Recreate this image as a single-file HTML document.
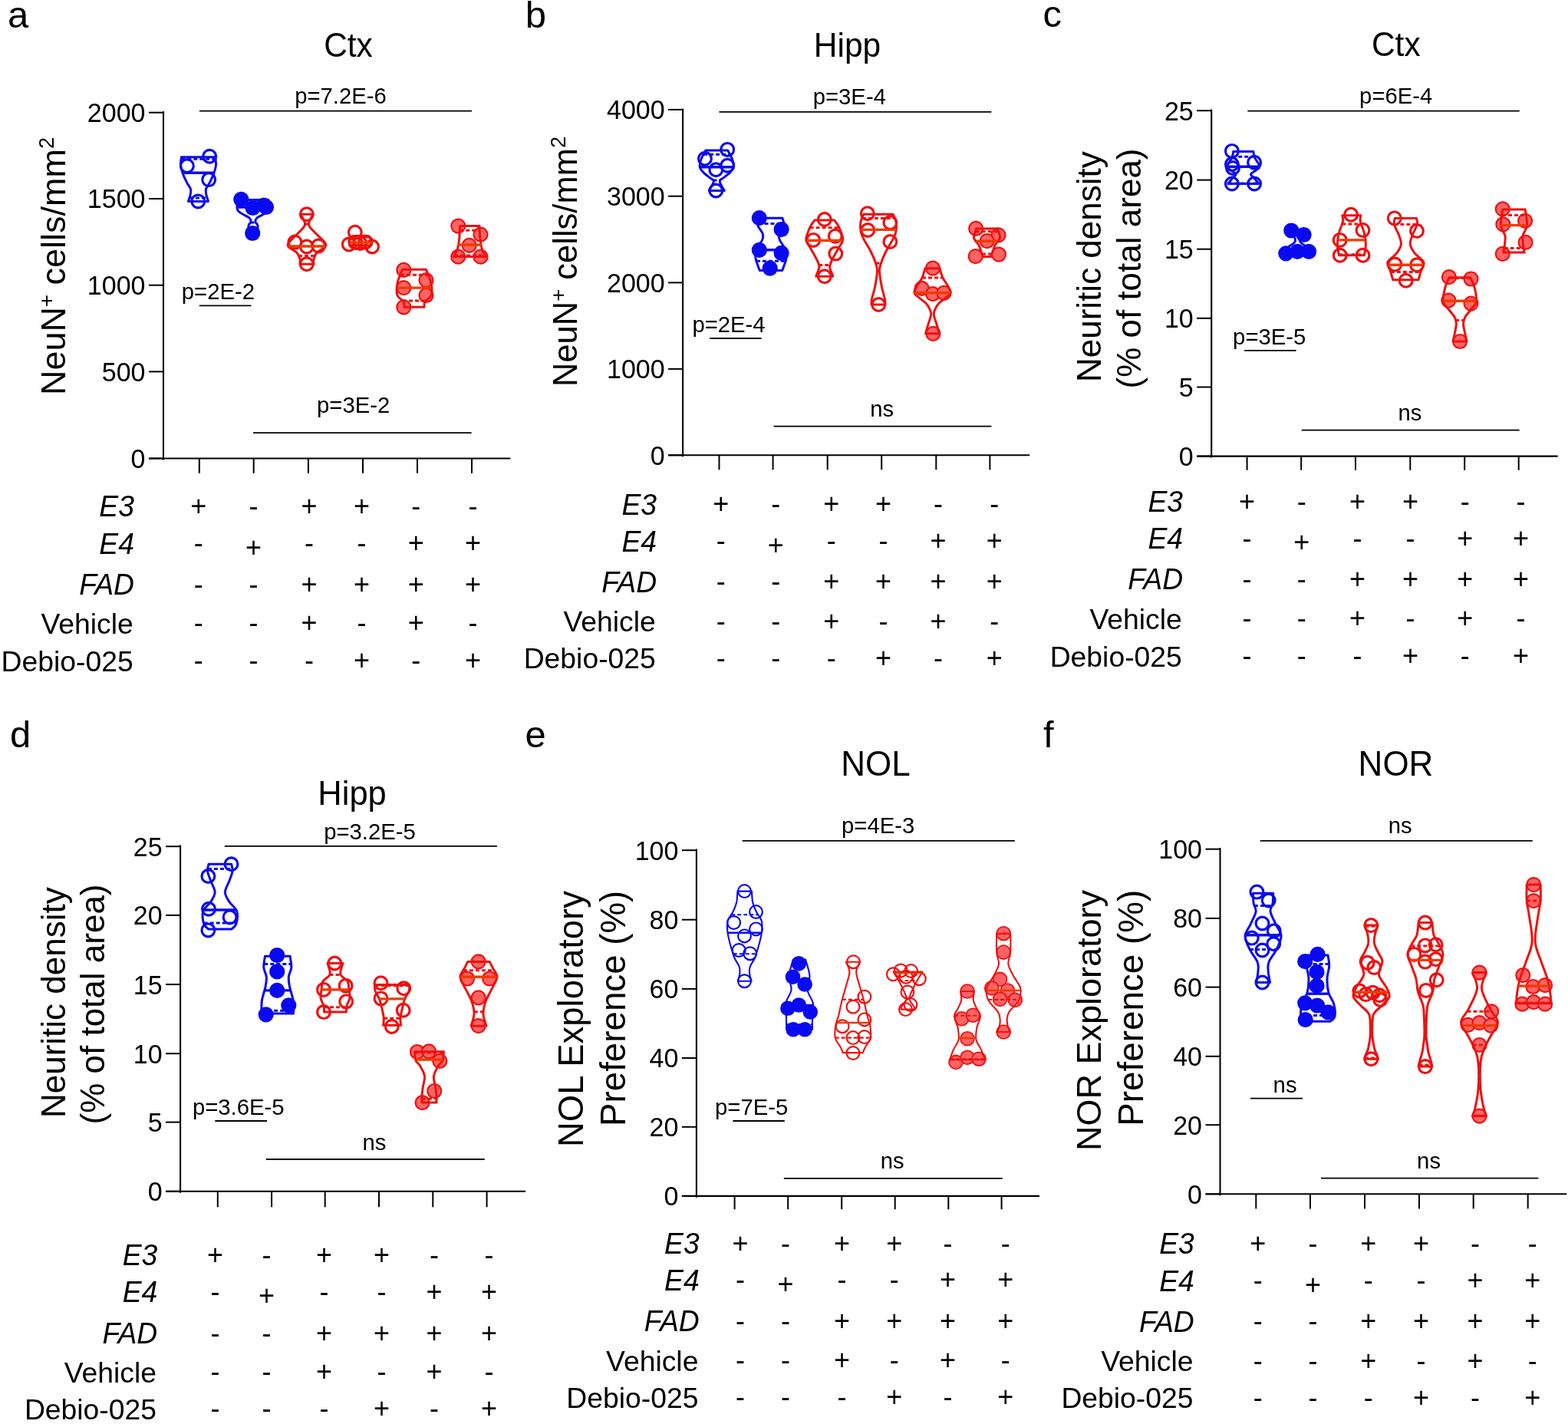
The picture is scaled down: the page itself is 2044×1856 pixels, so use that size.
<!DOCTYPE html>
<html><head><meta charset="utf-8"><style>
html,body{margin:0;padding:0;background:#fff;overflow:hidden;}
svg{display:block;}
text{font-family:'Liberation Sans', Arial, Helvetica, sans-serif;fill:#000;}
</style></head><body>
<svg xmlns="http://www.w3.org/2000/svg" width="2044" height="1856" viewBox="0 0 2044 1856">
<rect width="2044" height="1856" fill="#fff"/>
<text x="10.0" y="35.6" font-size="49" text-anchor="start" transform="matrix(1 0 0 0.99 0 0.36)">a</text>
<text x="454.0" y="73.6" font-size="42.5" text-anchor="middle" transform="matrix(1 0 0 1.025 0 -1.84)">Ctx</text>
<line x1="213.0" y1="145.0" x2="213.0" y2="599.5" stroke="#000" stroke-width="2.1"/>
<line x1="194.0" y1="597.5" x2="213.0" y2="597.5" stroke="#000" stroke-width="2.0"/>
<text x="189.5" y="610.0" font-size="34" text-anchor="end" transform="matrix(1 0 0 1.045 0 -27.45)">0</text>
<line x1="194.0" y1="484.4" x2="213.0" y2="484.4" stroke="#000" stroke-width="2.0"/>
<text x="189.5" y="496.9" font-size="34" text-anchor="end" transform="matrix(1 0 0 1.045 0 -22.36)">500</text>
<line x1="194.0" y1="371.7" x2="213.0" y2="371.7" stroke="#000" stroke-width="2.0"/>
<text x="189.5" y="384.2" font-size="34" text-anchor="end" transform="matrix(1 0 0 1.045 0 -17.29)">1000</text>
<line x1="194.0" y1="259.0" x2="213.0" y2="259.0" stroke="#000" stroke-width="2.0"/>
<text x="189.5" y="271.5" font-size="34" text-anchor="end" transform="matrix(1 0 0 1.045 0 -12.22)">1500</text>
<line x1="194.0" y1="146.7" x2="213.0" y2="146.7" stroke="#000" stroke-width="2.0"/>
<text x="189.5" y="159.2" font-size="34" text-anchor="end" transform="matrix(1 0 0 1.045 0 -7.16)">2000</text>
<line x1="194.0" y1="597.5" x2="665.4" y2="597.5" stroke="#000" stroke-width="2.1"/>
<line x1="259.8" y1="597.5" x2="259.8" y2="616.8" stroke="#000" stroke-width="2.0"/>
<line x1="330.7" y1="597.5" x2="330.7" y2="616.8" stroke="#000" stroke-width="2.0"/>
<line x1="401.9" y1="597.5" x2="401.9" y2="616.8" stroke="#000" stroke-width="2.0"/>
<line x1="473.0" y1="597.5" x2="473.0" y2="616.8" stroke="#000" stroke-width="2.0"/>
<line x1="544.0" y1="597.5" x2="544.0" y2="616.8" stroke="#000" stroke-width="2.0"/>
<line x1="615.0" y1="597.5" x2="615.0" y2="616.8" stroke="#000" stroke-width="2.0"/>
<text x="85.0" y="346.9" font-size="45" text-anchor="middle" transform="rotate(-90 85.0 346.9) translate(85.0 346.9) scale(1 1.0) translate(-85.0 -346.9)">NeuN<tspan dy="-14.5" font-size="27.5">+</tspan><tspan dy="14.5"> cells/mm</tspan><tspan dy="-14.5" font-size="27.5">2</tspan></text>
<text x="384.2" y="134.9" font-size="29.3" text-anchor="start" transform="matrix(1 0 0 1.02 0 -2.70)">p=7.2E-6</text>
<line x1="260.0" y1="144.7" x2="615.0" y2="144.7" stroke="#000" stroke-width="1.8"/>
<text x="236.8" y="389.8" font-size="29.3" text-anchor="start" transform="matrix(1 0 0 1.02 0 -7.80)">p=2E-2</text>
<line x1="259.8" y1="398.4" x2="327.4" y2="398.4" stroke="#000" stroke-width="1.8"/>
<text x="413.0" y="537.7" font-size="29.3" text-anchor="start" transform="matrix(1 0 0 1.02 0 -10.75)">p=3E-2</text>
<line x1="330.0" y1="564.2" x2="614.6" y2="564.2" stroke="#000" stroke-width="1.8"/>
<text x="175.0" y="673.0" font-size="37.3" text-anchor="end" transform="matrix(1 0 0 1.04 0 -26.92)"><tspan font-style="italic">E3</tspan></text>
<text x="258.7" y="671.5" font-size="36" text-anchor="middle">+</text>
<text x="330.5" y="671.5" font-size="36" text-anchor="middle">-</text>
<text x="403.0" y="671.5" font-size="36" text-anchor="middle">+</text>
<text x="471.5" y="671.5" font-size="36" text-anchor="middle">+</text>
<text x="542.3" y="671.5" font-size="36" text-anchor="middle">-</text>
<text x="616.5" y="671.5" font-size="36" text-anchor="middle">-</text>
<text x="175.0" y="721.9" font-size="37.3" text-anchor="end" transform="matrix(1 0 0 1.04 0 -28.88)"><tspan font-style="italic">E4</tspan></text>
<text x="258.7" y="720.4" font-size="36" text-anchor="middle">-</text>
<text x="330.5" y="725.9" font-size="36" text-anchor="middle">+</text>
<text x="403.0" y="720.4" font-size="36" text-anchor="middle">-</text>
<text x="471.5" y="720.4" font-size="36" text-anchor="middle">-</text>
<text x="542.3" y="720.4" font-size="36" text-anchor="middle">+</text>
<text x="616.5" y="720.4" font-size="36" text-anchor="middle">+</text>
<text x="175.0" y="775.1" font-size="37.3" text-anchor="end" transform="matrix(1 0 0 1.04 0 -31.00)"><tspan font-style="italic">FAD</tspan></text>
<text x="258.7" y="773.6" font-size="36" text-anchor="middle">-</text>
<text x="330.5" y="773.6" font-size="36" text-anchor="middle">-</text>
<text x="403.0" y="773.6" font-size="36" text-anchor="middle">+</text>
<text x="471.5" y="773.6" font-size="36" text-anchor="middle">+</text>
<text x="542.3" y="773.6" font-size="36" text-anchor="middle">+</text>
<text x="616.5" y="773.6" font-size="36" text-anchor="middle">+</text>
<text x="173.7" y="825.6" font-size="37.3" text-anchor="end">Vehicle</text>
<text x="258.7" y="824.1" font-size="36" text-anchor="middle">-</text>
<text x="330.5" y="824.1" font-size="36" text-anchor="middle">-</text>
<text x="403.0" y="824.1" font-size="36" text-anchor="middle">+</text>
<text x="471.5" y="824.1" font-size="36" text-anchor="middle">-</text>
<text x="542.3" y="824.1" font-size="36" text-anchor="middle">+</text>
<text x="616.5" y="824.1" font-size="36" text-anchor="middle">-</text>
<text x="173.7" y="874.6" font-size="37.3" text-anchor="end">Debio-025</text>
<text x="258.7" y="873.1" font-size="36" text-anchor="middle">-</text>
<text x="330.5" y="873.1" font-size="36" text-anchor="middle">-</text>
<text x="403.0" y="873.1" font-size="36" text-anchor="middle">-</text>
<text x="471.5" y="873.1" font-size="36" text-anchor="middle">+</text>
<text x="542.3" y="873.1" font-size="36" text-anchor="middle">-</text>
<text x="616.5" y="873.1" font-size="36" text-anchor="middle">+</text>
<text x="684.7" y="35.7" font-size="49" text-anchor="start" transform="matrix(1 0 0 0.99 0 0.36)">b</text>
<text x="1104.5" y="73.8" font-size="42.5" text-anchor="middle" transform="matrix(1 0 0 1.025 0 -1.84)">Hipp</text>
<line x1="890.1" y1="141.5" x2="890.1" y2="595.3" stroke="#000" stroke-width="2.1"/>
<line x1="871.1" y1="593.3" x2="890.1" y2="593.3" stroke="#000" stroke-width="2.0"/>
<text x="866.6" y="605.8" font-size="34" text-anchor="end" transform="matrix(1 0 0 1.045 0 -27.26)">0</text>
<line x1="871.1" y1="480.9" x2="890.1" y2="480.9" stroke="#000" stroke-width="2.0"/>
<text x="866.6" y="493.4" font-size="34" text-anchor="end" transform="matrix(1 0 0 1.045 0 -22.20)">1000</text>
<line x1="871.1" y1="368.4" x2="890.1" y2="368.4" stroke="#000" stroke-width="2.0"/>
<text x="866.6" y="380.9" font-size="34" text-anchor="end" transform="matrix(1 0 0 1.045 0 -17.14)">2000</text>
<line x1="871.1" y1="255.7" x2="890.1" y2="255.7" stroke="#000" stroke-width="2.0"/>
<text x="866.6" y="268.2" font-size="34" text-anchor="end" transform="matrix(1 0 0 1.045 0 -12.07)">3000</text>
<line x1="871.1" y1="142.9" x2="890.1" y2="142.9" stroke="#000" stroke-width="2.0"/>
<text x="866.6" y="155.4" font-size="34" text-anchor="end" transform="matrix(1 0 0 1.045 0 -6.99)">4000</text>
<line x1="871.1" y1="593.3" x2="1342.2" y2="593.3" stroke="#000" stroke-width="2.1"/>
<line x1="937.5" y1="593.3" x2="937.5" y2="612.3" stroke="#000" stroke-width="2.0"/>
<line x1="1007.6" y1="593.3" x2="1007.6" y2="612.3" stroke="#000" stroke-width="2.0"/>
<line x1="1078.7" y1="593.3" x2="1078.7" y2="612.3" stroke="#000" stroke-width="2.0"/>
<line x1="1149.2" y1="593.3" x2="1149.2" y2="612.3" stroke="#000" stroke-width="2.0"/>
<line x1="1220.3" y1="593.3" x2="1220.3" y2="612.3" stroke="#000" stroke-width="2.0"/>
<line x1="1290.4" y1="593.3" x2="1290.4" y2="612.3" stroke="#000" stroke-width="2.0"/>
<text x="751.6" y="340.9" font-size="43.5" text-anchor="middle" transform="rotate(-90 751.6 340.9) translate(751.6 340.9) scale(1 1.0) translate(-751.6 -340.9)">NeuN<tspan dy="-14.5" font-size="27.5">+</tspan><tspan dy="14.5"> cells/mm</tspan><tspan dy="-14.5" font-size="27.5">2</tspan></text>
<text x="1059.7" y="135.7" font-size="29.3" text-anchor="start" transform="matrix(1 0 0 1.02 0 -2.71)">p=3E-4</text>
<line x1="937.5" y1="145.9" x2="1292.4" y2="145.9" stroke="#000" stroke-width="1.8"/>
<text x="902.4" y="432.6" font-size="29.3" text-anchor="start" transform="matrix(1 0 0 1.02 0 -8.65)">p=2E-4</text>
<line x1="925.1" y1="441.0" x2="992.7" y2="441.0" stroke="#000" stroke-width="1.8"/>
<text x="1134.2" y="542.8" font-size="29.3" text-anchor="start" transform="matrix(1 0 0 0.98 0 10.86)">ns</text>
<line x1="1008.6" y1="555.6" x2="1292.4" y2="555.6" stroke="#000" stroke-width="1.8"/>
<text x="856.1" y="670.6" font-size="37.3" text-anchor="end" transform="matrix(1 0 0 1.04 0 -26.82)"><tspan font-style="italic">E3</tspan></text>
<text x="939.8" y="669.1" font-size="36" text-anchor="middle">+</text>
<text x="1011.3" y="669.1" font-size="36" text-anchor="middle">-</text>
<text x="1083.8" y="669.1" font-size="36" text-anchor="middle">+</text>
<text x="1151.6" y="669.1" font-size="36" text-anchor="middle">+</text>
<text x="1223.1" y="669.1" font-size="36" text-anchor="middle">-</text>
<text x="1296.3" y="669.1" font-size="36" text-anchor="middle">-</text>
<text x="856.1" y="718.8" font-size="37.3" text-anchor="end" transform="matrix(1 0 0 1.04 0 -28.75)"><tspan font-style="italic">E4</tspan></text>
<text x="939.8" y="717.3" font-size="36" text-anchor="middle">-</text>
<text x="1011.3" y="722.8" font-size="36" text-anchor="middle">+</text>
<text x="1083.8" y="717.3" font-size="36" text-anchor="middle">-</text>
<text x="1151.6" y="717.3" font-size="36" text-anchor="middle">-</text>
<text x="1223.1" y="717.3" font-size="36" text-anchor="middle">+</text>
<text x="1296.3" y="717.3" font-size="36" text-anchor="middle">+</text>
<text x="856.1" y="771.8" font-size="37.3" text-anchor="end" transform="matrix(1 0 0 1.04 0 -30.87)"><tspan font-style="italic">FAD</tspan></text>
<text x="939.8" y="770.3" font-size="36" text-anchor="middle">-</text>
<text x="1011.3" y="770.3" font-size="36" text-anchor="middle">-</text>
<text x="1083.8" y="770.3" font-size="36" text-anchor="middle">+</text>
<text x="1151.6" y="770.3" font-size="36" text-anchor="middle">+</text>
<text x="1223.1" y="770.3" font-size="36" text-anchor="middle">+</text>
<text x="1296.3" y="770.3" font-size="36" text-anchor="middle">+</text>
<text x="854.8" y="823.3" font-size="37.3" text-anchor="end">Vehicle</text>
<text x="939.8" y="821.8" font-size="36" text-anchor="middle">-</text>
<text x="1011.3" y="821.8" font-size="36" text-anchor="middle">-</text>
<text x="1083.8" y="821.8" font-size="36" text-anchor="middle">+</text>
<text x="1151.6" y="821.8" font-size="36" text-anchor="middle">-</text>
<text x="1223.1" y="821.8" font-size="36" text-anchor="middle">+</text>
<text x="1296.3" y="821.8" font-size="36" text-anchor="middle">-</text>
<text x="854.8" y="871.3" font-size="37.3" text-anchor="end">Debio-025</text>
<text x="939.8" y="869.8" font-size="36" text-anchor="middle">-</text>
<text x="1011.3" y="869.8" font-size="36" text-anchor="middle">-</text>
<text x="1083.8" y="869.8" font-size="36" text-anchor="middle">-</text>
<text x="1151.6" y="869.8" font-size="36" text-anchor="middle">+</text>
<text x="1223.1" y="869.8" font-size="36" text-anchor="middle">-</text>
<text x="1296.3" y="869.8" font-size="36" text-anchor="middle">+</text>
<text x="1359.6" y="35.3" font-size="49" text-anchor="start" transform="matrix(1 0 0 0.99 0 0.35)">c</text>
<text x="1819.8" y="73.4" font-size="42.5" text-anchor="middle" transform="matrix(1 0 0 1.025 0 -1.83)">Ctx</text>
<line x1="1579.2" y1="142.5" x2="1579.2" y2="596.6" stroke="#000" stroke-width="2.1"/>
<line x1="1560.2" y1="594.6" x2="1579.2" y2="594.6" stroke="#000" stroke-width="2.0"/>
<text x="1555.7" y="607.1" font-size="34" text-anchor="end" transform="matrix(1 0 0 1.045 0 -27.32)">0</text>
<line x1="1560.2" y1="504.5" x2="1579.2" y2="504.5" stroke="#000" stroke-width="2.0"/>
<text x="1555.7" y="517.0" font-size="34" text-anchor="end" transform="matrix(1 0 0 1.045 0 -23.26)">5</text>
<line x1="1560.2" y1="414.8" x2="1579.2" y2="414.8" stroke="#000" stroke-width="2.0"/>
<text x="1555.7" y="427.3" font-size="34" text-anchor="end" transform="matrix(1 0 0 1.045 0 -19.23)">10</text>
<line x1="1560.2" y1="324.7" x2="1579.2" y2="324.7" stroke="#000" stroke-width="2.0"/>
<text x="1555.7" y="337.2" font-size="34" text-anchor="end" transform="matrix(1 0 0 1.045 0 -15.17)">15</text>
<line x1="1560.2" y1="234.6" x2="1579.2" y2="234.6" stroke="#000" stroke-width="2.0"/>
<text x="1555.7" y="247.1" font-size="34" text-anchor="end" transform="matrix(1 0 0 1.045 0 -11.12)">20</text>
<line x1="1560.2" y1="144.2" x2="1579.2" y2="144.2" stroke="#000" stroke-width="2.0"/>
<text x="1555.7" y="156.7" font-size="34" text-anchor="end" transform="matrix(1 0 0 1.045 0 -7.05)">25</text>
<line x1="1560.2" y1="594.6" x2="2030.7" y2="594.6" stroke="#000" stroke-width="2.1"/>
<line x1="1625.6" y1="594.6" x2="1625.6" y2="612.8" stroke="#000" stroke-width="2.0"/>
<line x1="1696.2" y1="594.6" x2="1696.2" y2="612.8" stroke="#000" stroke-width="2.0"/>
<line x1="1767.0" y1="594.6" x2="1767.0" y2="612.8" stroke="#000" stroke-width="2.0"/>
<line x1="1838.3" y1="594.6" x2="1838.3" y2="612.8" stroke="#000" stroke-width="2.0"/>
<line x1="1909.2" y1="594.6" x2="1909.2" y2="612.8" stroke="#000" stroke-width="2.0"/>
<line x1="1979.7" y1="594.6" x2="1979.7" y2="612.8" stroke="#000" stroke-width="2.0"/>
<text x="1434.6" y="347.6" font-size="44" text-anchor="middle" transform="rotate(-90 1434.6 347.6) translate(1434.6 347.6) scale(1 1.0) translate(-1434.6 -347.6)">Neuritic density</text>
<text x="1486.6" y="350.0" font-size="44" text-anchor="middle" transform="rotate(-90 1486.6 350.0) translate(1486.6 350.0) scale(1 1.0) translate(-1486.6 -350.0)">(% of total area)</text>
<text x="1772.1" y="134.8" font-size="29.3" text-anchor="start" transform="matrix(1 0 0 1.02 0 -2.70)">p=6E-4</text>
<line x1="1626.3" y1="144.6" x2="1980.7" y2="144.6" stroke="#000" stroke-width="1.8"/>
<text x="1607.1" y="448.9" font-size="29.3" text-anchor="start" transform="matrix(1 0 0 1.02 0 -8.98)">p=3E-5</text>
<line x1="1622.1" y1="456.9" x2="1689.6" y2="456.9" stroke="#000" stroke-width="1.8"/>
<text x="1822.4" y="547.8" font-size="29.3" text-anchor="start" transform="matrix(1 0 0 0.98 0 10.96)">ns</text>
<line x1="1696.8" y1="560.6" x2="1980.7" y2="560.6" stroke="#000" stroke-width="1.8"/>
<text x="1542.1" y="667.1" font-size="37.3" text-anchor="end" transform="matrix(1 0 0 1.04 0 -26.68)"><tspan font-style="italic">E3</tspan></text>
<text x="1625.6" y="665.6" font-size="36" text-anchor="middle">+</text>
<text x="1696.8" y="665.6" font-size="36" text-anchor="middle">-</text>
<text x="1769.5" y="665.6" font-size="36" text-anchor="middle">+</text>
<text x="1838.6" y="665.6" font-size="36" text-anchor="middle">+</text>
<text x="1909.8" y="665.6" font-size="36" text-anchor="middle">-</text>
<text x="1982.5" y="665.6" font-size="36" text-anchor="middle">-</text>
<text x="1542.1" y="715.0" font-size="37.3" text-anchor="end" transform="matrix(1 0 0 1.04 0 -28.60)"><tspan font-style="italic">E4</tspan></text>
<text x="1625.6" y="713.5" font-size="36" text-anchor="middle">-</text>
<text x="1696.8" y="719.0" font-size="36" text-anchor="middle">+</text>
<text x="1769.5" y="713.5" font-size="36" text-anchor="middle">-</text>
<text x="1838.6" y="713.5" font-size="36" text-anchor="middle">-</text>
<text x="1909.8" y="713.5" font-size="36" text-anchor="middle">+</text>
<text x="1982.5" y="713.5" font-size="36" text-anchor="middle">+</text>
<text x="1542.1" y="768.4" font-size="37.3" text-anchor="end" transform="matrix(1 0 0 1.04 0 -30.74)"><tspan font-style="italic">FAD</tspan></text>
<text x="1625.6" y="766.9" font-size="36" text-anchor="middle">-</text>
<text x="1696.8" y="766.9" font-size="36" text-anchor="middle">-</text>
<text x="1769.5" y="766.9" font-size="36" text-anchor="middle">+</text>
<text x="1838.6" y="766.9" font-size="36" text-anchor="middle">+</text>
<text x="1909.8" y="766.9" font-size="36" text-anchor="middle">+</text>
<text x="1982.5" y="766.9" font-size="36" text-anchor="middle">+</text>
<text x="1540.8" y="819.9" font-size="37.3" text-anchor="end">Vehicle</text>
<text x="1625.6" y="818.4" font-size="36" text-anchor="middle">-</text>
<text x="1696.8" y="818.4" font-size="36" text-anchor="middle">-</text>
<text x="1769.5" y="818.4" font-size="36" text-anchor="middle">+</text>
<text x="1838.6" y="818.4" font-size="36" text-anchor="middle">-</text>
<text x="1909.8" y="818.4" font-size="36" text-anchor="middle">+</text>
<text x="1982.5" y="818.4" font-size="36" text-anchor="middle">-</text>
<text x="1540.8" y="868.6" font-size="37.3" text-anchor="end">Debio-025</text>
<text x="1625.6" y="867.1" font-size="36" text-anchor="middle">-</text>
<text x="1696.8" y="867.1" font-size="36" text-anchor="middle">-</text>
<text x="1769.5" y="867.1" font-size="36" text-anchor="middle">-</text>
<text x="1838.6" y="867.1" font-size="36" text-anchor="middle">+</text>
<text x="1909.8" y="867.1" font-size="36" text-anchor="middle">-</text>
<text x="1982.5" y="867.1" font-size="36" text-anchor="middle">+</text>
<text x="13.0" y="974.1" font-size="49" text-anchor="start" transform="matrix(1 0 0 0.99 0 9.74)">d</text>
<text x="459.1" y="1049.1" font-size="43.5" text-anchor="middle" transform="matrix(1 0 0 1.025 0 -26.23)">Hipp</text>
<line x1="235.1" y1="1101.5" x2="235.1" y2="1554.8" stroke="#000" stroke-width="2.1"/>
<line x1="216.1" y1="1552.8" x2="235.1" y2="1552.8" stroke="#000" stroke-width="2.0"/>
<text x="211.6" y="1565.3" font-size="34" text-anchor="end" transform="matrix(1 0 0 1.045 0 -70.44)">0</text>
<line x1="216.1" y1="1462.6" x2="235.1" y2="1462.6" stroke="#000" stroke-width="2.0"/>
<text x="211.6" y="1475.1" font-size="34" text-anchor="end" transform="matrix(1 0 0 1.045 0 -66.38)">5</text>
<line x1="216.1" y1="1373.2" x2="235.1" y2="1373.2" stroke="#000" stroke-width="2.0"/>
<text x="211.6" y="1385.7" font-size="34" text-anchor="end" transform="matrix(1 0 0 1.045 0 -62.36)">10</text>
<line x1="216.1" y1="1283.1" x2="235.1" y2="1283.1" stroke="#000" stroke-width="2.0"/>
<text x="211.6" y="1295.6" font-size="34" text-anchor="end" transform="matrix(1 0 0 1.045 0 -58.30)">15</text>
<line x1="216.1" y1="1192.9" x2="235.1" y2="1192.9" stroke="#000" stroke-width="2.0"/>
<text x="211.6" y="1205.4" font-size="34" text-anchor="end" transform="matrix(1 0 0 1.045 0 -54.24)">20</text>
<line x1="216.1" y1="1103.2" x2="235.1" y2="1103.2" stroke="#000" stroke-width="2.0"/>
<text x="211.6" y="1115.7" font-size="34" text-anchor="end" transform="matrix(1 0 0 1.045 0 -50.21)">25</text>
<line x1="216.1" y1="1552.8" x2="685.0" y2="1552.8" stroke="#000" stroke-width="2.1"/>
<line x1="283.8" y1="1552.8" x2="283.8" y2="1573.3" stroke="#000" stroke-width="2.0"/>
<line x1="354.1" y1="1552.8" x2="354.1" y2="1573.3" stroke="#000" stroke-width="2.0"/>
<line x1="423.7" y1="1552.8" x2="423.7" y2="1573.3" stroke="#000" stroke-width="2.0"/>
<line x1="494.0" y1="1552.8" x2="494.0" y2="1573.3" stroke="#000" stroke-width="2.0"/>
<line x1="564.3" y1="1552.8" x2="564.3" y2="1573.3" stroke="#000" stroke-width="2.0"/>
<line x1="634.6" y1="1552.8" x2="634.6" y2="1573.3" stroke="#000" stroke-width="2.0"/>
<text x="84.6" y="1306.7" font-size="44" text-anchor="middle" transform="rotate(-90 84.6 1306.7) translate(84.6 1306.7) scale(1 1.0) translate(-84.6 -1306.7)">Neuritic density</text>
<text x="136.2" y="1309.0" font-size="44" text-anchor="middle" transform="rotate(-90 136.2 1309.0) translate(136.2 1309.0) scale(1 1.0) translate(-136.2 -1309.0)">(% of total area)</text>
<text x="422.2" y="1093.9" font-size="29.3" text-anchor="start" transform="matrix(1 0 0 1.02 0 -21.88)">p=3.2E-5</text>
<line x1="292.8" y1="1102.8" x2="647.9" y2="1102.8" stroke="#000" stroke-width="1.8"/>
<text x="250.9" y="1452.6" font-size="29.3" text-anchor="start" transform="matrix(1 0 0 1.02 0 -29.05)">p=3.6E-5</text>
<line x1="280.3" y1="1461.0" x2="348.0" y2="1461.0" stroke="#000" stroke-width="1.8"/>
<text x="472.5" y="1498.8" font-size="29.3" text-anchor="start" transform="matrix(1 0 0 0.98 0 29.98)">ns</text>
<line x1="346.9" y1="1511.0" x2="631.7" y2="1511.0" stroke="#000" stroke-width="1.8"/>
<text x="205.3" y="1649.1" font-size="37.3" text-anchor="end" transform="matrix(1 0 0 1.04 0 -65.96)"><tspan font-style="italic">E3</tspan></text>
<text x="280.6" y="1647.6" font-size="36" text-anchor="middle">+</text>
<text x="347.4" y="1647.6" font-size="36" text-anchor="middle">-</text>
<text x="422.6" y="1647.6" font-size="36" text-anchor="middle">+</text>
<text x="497.5" y="1647.6" font-size="36" text-anchor="middle">+</text>
<text x="565.9" y="1647.6" font-size="36" text-anchor="middle">-</text>
<text x="637.4" y="1647.6" font-size="36" text-anchor="middle">-</text>
<text x="205.3" y="1697.4" font-size="37.3" text-anchor="end" transform="matrix(1 0 0 1.04 0 -67.90)"><tspan font-style="italic">E4</tspan></text>
<text x="280.6" y="1695.9" font-size="36" text-anchor="middle">-</text>
<text x="347.4" y="1701.4" font-size="36" text-anchor="middle">+</text>
<text x="422.6" y="1695.9" font-size="36" text-anchor="middle">-</text>
<text x="497.5" y="1695.9" font-size="36" text-anchor="middle">-</text>
<text x="565.9" y="1695.9" font-size="36" text-anchor="middle">+</text>
<text x="637.4" y="1695.9" font-size="36" text-anchor="middle">+</text>
<text x="205.3" y="1751.3" font-size="37.3" text-anchor="end" transform="matrix(1 0 0 1.04 0 -70.05)"><tspan font-style="italic">FAD</tspan></text>
<text x="280.6" y="1749.8" font-size="36" text-anchor="middle">-</text>
<text x="347.4" y="1749.8" font-size="36" text-anchor="middle">-</text>
<text x="422.6" y="1749.8" font-size="36" text-anchor="middle">+</text>
<text x="497.5" y="1749.8" font-size="36" text-anchor="middle">+</text>
<text x="565.9" y="1749.8" font-size="36" text-anchor="middle">+</text>
<text x="637.4" y="1749.8" font-size="36" text-anchor="middle">+</text>
<text x="204.0" y="1801.8" font-size="37.3" text-anchor="end">Vehicle</text>
<text x="280.6" y="1800.3" font-size="36" text-anchor="middle">-</text>
<text x="347.4" y="1800.3" font-size="36" text-anchor="middle">-</text>
<text x="422.6" y="1800.3" font-size="36" text-anchor="middle">+</text>
<text x="497.5" y="1800.3" font-size="36" text-anchor="middle">-</text>
<text x="565.9" y="1800.3" font-size="36" text-anchor="middle">+</text>
<text x="637.4" y="1800.3" font-size="36" text-anchor="middle">-</text>
<text x="204.0" y="1849.8" font-size="37.3" text-anchor="end">Debio-025</text>
<text x="280.6" y="1848.3" font-size="36" text-anchor="middle">-</text>
<text x="347.4" y="1848.3" font-size="36" text-anchor="middle">-</text>
<text x="422.6" y="1848.3" font-size="36" text-anchor="middle">-</text>
<text x="497.5" y="1848.3" font-size="36" text-anchor="middle">+</text>
<text x="565.9" y="1848.3" font-size="36" text-anchor="middle">-</text>
<text x="637.4" y="1848.3" font-size="36" text-anchor="middle">+</text>
<text x="684.5" y="974.1" font-size="49" text-anchor="start" transform="matrix(1 0 0 0.99 0 9.74)">e</text>
<text x="1141.4" y="1010.9" font-size="44" text-anchor="middle" transform="matrix(1 0 0 1.04 0 -40.44)">NOL</text>
<line x1="907.9" y1="1106.5" x2="907.9" y2="1560.9" stroke="#000" stroke-width="2.1"/>
<line x1="888.9" y1="1558.9" x2="907.9" y2="1558.9" stroke="#000" stroke-width="2.0"/>
<text x="884.4" y="1571.4" font-size="34" text-anchor="end" transform="matrix(1 0 0 1.045 0 -70.71)">0</text>
<line x1="888.9" y1="1468.8" x2="907.9" y2="1468.8" stroke="#000" stroke-width="2.0"/>
<text x="884.4" y="1481.3" font-size="34" text-anchor="end" transform="matrix(1 0 0 1.045 0 -66.66)">20</text>
<line x1="888.9" y1="1379.0" x2="907.9" y2="1379.0" stroke="#000" stroke-width="2.0"/>
<text x="884.4" y="1391.5" font-size="34" text-anchor="end" transform="matrix(1 0 0 1.045 0 -62.62)">40</text>
<line x1="888.9" y1="1288.9" x2="907.9" y2="1288.9" stroke="#000" stroke-width="2.0"/>
<text x="884.4" y="1301.4" font-size="34" text-anchor="end" transform="matrix(1 0 0 1.045 0 -58.56)">60</text>
<line x1="888.9" y1="1198.7" x2="907.9" y2="1198.7" stroke="#000" stroke-width="2.0"/>
<text x="884.4" y="1211.2" font-size="34" text-anchor="end" transform="matrix(1 0 0 1.045 0 -54.50)">80</text>
<line x1="888.9" y1="1108.2" x2="907.9" y2="1108.2" stroke="#000" stroke-width="2.0"/>
<text x="884.4" y="1120.7" font-size="34" text-anchor="end" transform="matrix(1 0 0 1.045 0 -50.43)">100</text>
<line x1="888.9" y1="1558.9" x2="1355.0" y2="1558.9" stroke="#000" stroke-width="2.1"/>
<line x1="957.6" y1="1558.9" x2="957.6" y2="1576.2" stroke="#000" stroke-width="2.0"/>
<line x1="1027.2" y1="1558.9" x2="1027.2" y2="1576.2" stroke="#000" stroke-width="2.0"/>
<line x1="1097.2" y1="1558.9" x2="1097.2" y2="1576.2" stroke="#000" stroke-width="2.0"/>
<line x1="1166.7" y1="1558.9" x2="1166.7" y2="1576.2" stroke="#000" stroke-width="2.0"/>
<line x1="1236.3" y1="1558.9" x2="1236.3" y2="1576.2" stroke="#000" stroke-width="2.0"/>
<line x1="1305.6" y1="1558.9" x2="1305.6" y2="1576.2" stroke="#000" stroke-width="2.0"/>
<text x="759.9" y="1328.0" font-size="45.4" text-anchor="middle" transform="rotate(-90 759.9 1328.0) translate(759.9 1328.0) scale(1 1.0) translate(-759.9 -1328.0)">NOL Exploratory</text>
<text x="815.3" y="1314.3" font-size="45.7" text-anchor="middle" transform="rotate(-90 815.3 1314.3) translate(815.3 1314.3) scale(1 1.0) translate(-815.3 -1314.3)">Preference (%)</text>
<text x="1097.0" y="1085.8" font-size="29.3" text-anchor="start" transform="matrix(1 0 0 1.02 0 -21.72)">p=4E-3</text>
<line x1="967.7" y1="1095.8" x2="1322.9" y2="1095.8" stroke="#000" stroke-width="1.8"/>
<text x="932.0" y="1452.6" font-size="29.3" text-anchor="start" transform="matrix(1 0 0 1.02 0 -29.05)">p=7E-5</text>
<line x1="955.4" y1="1461.0" x2="1022.8" y2="1461.0" stroke="#000" stroke-width="1.8"/>
<text x="1147.7" y="1522.8" font-size="29.3" text-anchor="start" transform="matrix(1 0 0 0.98 0 30.46)">ns</text>
<line x1="1021.8" y1="1535.8" x2="1306.7" y2="1535.8" stroke="#000" stroke-width="1.8"/>
<text x="911.7" y="1634.0" font-size="37.3" text-anchor="end" transform="matrix(1 0 0 1.04 0 -65.36)"><tspan font-style="italic">E3</tspan></text>
<text x="965.0" y="1632.5" font-size="36" text-anchor="middle">+</text>
<text x="1024.0" y="1632.5" font-size="36" text-anchor="middle">-</text>
<text x="1097.5" y="1632.5" font-size="36" text-anchor="middle">+</text>
<text x="1165.7" y="1632.5" font-size="36" text-anchor="middle">+</text>
<text x="1235.5" y="1632.5" font-size="36" text-anchor="middle">-</text>
<text x="1310.7" y="1632.5" font-size="36" text-anchor="middle">-</text>
<text x="911.7" y="1681.9" font-size="37.3" text-anchor="end" transform="matrix(1 0 0 1.04 0 -67.28)"><tspan font-style="italic">E4</tspan></text>
<text x="965.0" y="1680.4" font-size="36" text-anchor="middle">-</text>
<text x="1024.0" y="1685.9" font-size="36" text-anchor="middle">+</text>
<text x="1097.5" y="1680.4" font-size="36" text-anchor="middle">-</text>
<text x="1165.7" y="1680.4" font-size="36" text-anchor="middle">-</text>
<text x="1235.5" y="1680.4" font-size="36" text-anchor="middle">+</text>
<text x="1310.7" y="1680.4" font-size="36" text-anchor="middle">+</text>
<text x="911.7" y="1735.1" font-size="37.3" text-anchor="end" transform="matrix(1 0 0 1.04 0 -69.40)"><tspan font-style="italic">FAD</tspan></text>
<text x="965.0" y="1733.6" font-size="36" text-anchor="middle">-</text>
<text x="1024.0" y="1733.6" font-size="36" text-anchor="middle">-</text>
<text x="1097.5" y="1733.6" font-size="36" text-anchor="middle">+</text>
<text x="1165.7" y="1733.6" font-size="36" text-anchor="middle">+</text>
<text x="1235.5" y="1733.6" font-size="36" text-anchor="middle">+</text>
<text x="1310.7" y="1733.6" font-size="36" text-anchor="middle">+</text>
<text x="910.4" y="1786.6" font-size="37.3" text-anchor="end">Vehicle</text>
<text x="965.0" y="1785.1" font-size="36" text-anchor="middle">-</text>
<text x="1024.0" y="1785.1" font-size="36" text-anchor="middle">-</text>
<text x="1097.5" y="1785.1" font-size="36" text-anchor="middle">+</text>
<text x="1165.7" y="1785.1" font-size="36" text-anchor="middle">-</text>
<text x="1235.5" y="1785.1" font-size="36" text-anchor="middle">+</text>
<text x="1310.7" y="1785.1" font-size="36" text-anchor="middle">-</text>
<text x="910.4" y="1834.6" font-size="37.3" text-anchor="end">Debio-025</text>
<text x="965.0" y="1833.1" font-size="36" text-anchor="middle">-</text>
<text x="1024.0" y="1833.1" font-size="36" text-anchor="middle">-</text>
<text x="1097.5" y="1833.1" font-size="36" text-anchor="middle">-</text>
<text x="1165.7" y="1833.1" font-size="36" text-anchor="middle">+</text>
<text x="1235.5" y="1833.1" font-size="36" text-anchor="middle">-</text>
<text x="1310.7" y="1833.1" font-size="36" text-anchor="middle">+</text>
<text x="1360.0" y="974.1" font-size="49" text-anchor="start" transform="matrix(1 0 0 0.99 0 9.74)">f</text>
<text x="1819.5" y="1011.1" font-size="44" text-anchor="middle" transform="matrix(1 0 0 1.04 0 -40.44)">NOR</text>
<line x1="1590.5" y1="1105.0" x2="1590.5" y2="1558.3" stroke="#000" stroke-width="2.1"/>
<line x1="1571.5" y1="1556.3" x2="1590.5" y2="1556.3" stroke="#000" stroke-width="2.0"/>
<text x="1567.0" y="1568.8" font-size="34" text-anchor="end" transform="matrix(1 0 0 1.045 0 -70.60)">0</text>
<line x1="1571.5" y1="1466.2" x2="1590.5" y2="1466.2" stroke="#000" stroke-width="2.0"/>
<text x="1567.0" y="1478.7" font-size="34" text-anchor="end" transform="matrix(1 0 0 1.045 0 -66.54)">20</text>
<line x1="1571.5" y1="1376.8" x2="1590.5" y2="1376.8" stroke="#000" stroke-width="2.0"/>
<text x="1567.0" y="1389.3" font-size="34" text-anchor="end" transform="matrix(1 0 0 1.045 0 -62.52)">40</text>
<line x1="1571.5" y1="1286.6" x2="1590.5" y2="1286.6" stroke="#000" stroke-width="2.0"/>
<text x="1567.0" y="1299.1" font-size="34" text-anchor="end" transform="matrix(1 0 0 1.045 0 -58.46)">60</text>
<line x1="1571.5" y1="1196.9" x2="1590.5" y2="1196.9" stroke="#000" stroke-width="2.0"/>
<text x="1567.0" y="1209.4" font-size="34" text-anchor="end" transform="matrix(1 0 0 1.045 0 -54.42)">80</text>
<line x1="1571.5" y1="1106.7" x2="1590.5" y2="1106.7" stroke="#000" stroke-width="2.0"/>
<text x="1567.0" y="1119.2" font-size="34" text-anchor="end" transform="matrix(1 0 0 1.045 0 -50.36)">100</text>
<line x1="1571.5" y1="1556.3" x2="2042.2" y2="1556.3" stroke="#000" stroke-width="2.1"/>
<line x1="1637.3" y1="1556.3" x2="1637.3" y2="1575.4" stroke="#000" stroke-width="2.0"/>
<line x1="1708.0" y1="1556.3" x2="1708.0" y2="1575.4" stroke="#000" stroke-width="2.0"/>
<line x1="1779.0" y1="1556.3" x2="1779.0" y2="1575.4" stroke="#000" stroke-width="2.0"/>
<line x1="1850.0" y1="1556.3" x2="1850.0" y2="1575.4" stroke="#000" stroke-width="2.0"/>
<line x1="1920.7" y1="1556.3" x2="1920.7" y2="1575.4" stroke="#000" stroke-width="2.0"/>
<line x1="1991.7" y1="1556.3" x2="1991.7" y2="1575.4" stroke="#000" stroke-width="2.0"/>
<text x="1434.9" y="1330.0" font-size="45" text-anchor="middle" transform="rotate(-90 1434.9 1330.0) translate(1434.9 1330.0) scale(1 1.0) translate(-1434.9 -1330.0)">NOR Exploratory</text>
<text x="1490.3" y="1313.8" font-size="45.8" text-anchor="middle" transform="rotate(-90 1490.3 1313.8) translate(1490.3 1313.8) scale(1 1.0) translate(-1490.3 -1313.8)">Preference (%)</text>
<text x="1809.7" y="1085.8" font-size="29.3" text-anchor="start" transform="matrix(1 0 0 0.98 0 21.72)">ns</text>
<line x1="1642.7" y1="1095.9" x2="1997.8" y2="1095.9" stroke="#000" stroke-width="1.8"/>
<text x="1659.6" y="1423.8" font-size="29.3" text-anchor="start" transform="matrix(1 0 0 0.98 0 28.48)">ns</text>
<line x1="1630.0" y1="1431.6" x2="1698.1" y2="1431.6" stroke="#000" stroke-width="1.8"/>
<text x="1847.1" y="1522.8" font-size="29.3" text-anchor="start" transform="matrix(1 0 0 0.98 0 30.46)">ns</text>
<line x1="1722.0" y1="1535.7" x2="2005.4" y2="1535.7" stroke="#000" stroke-width="1.8"/>
<text x="1556.8" y="1634.4" font-size="37.3" text-anchor="end" transform="matrix(1 0 0 1.04 0 -65.38)"><tspan font-style="italic">E3</tspan></text>
<text x="1639.8" y="1632.9" font-size="36" text-anchor="middle">+</text>
<text x="1711.4" y="1632.9" font-size="36" text-anchor="middle">-</text>
<text x="1783.7" y="1632.9" font-size="36" text-anchor="middle">+</text>
<text x="1852.6" y="1632.9" font-size="36" text-anchor="middle">+</text>
<text x="1923.1" y="1632.9" font-size="36" text-anchor="middle">-</text>
<text x="1997.8" y="1632.9" font-size="36" text-anchor="middle">-</text>
<text x="1556.8" y="1682.6" font-size="37.3" text-anchor="end" transform="matrix(1 0 0 1.04 0 -67.30)"><tspan font-style="italic">E4</tspan></text>
<text x="1639.8" y="1681.1" font-size="36" text-anchor="middle">-</text>
<text x="1711.4" y="1686.6" font-size="36" text-anchor="middle">+</text>
<text x="1783.7" y="1681.1" font-size="36" text-anchor="middle">-</text>
<text x="1852.6" y="1681.1" font-size="36" text-anchor="middle">-</text>
<text x="1923.1" y="1681.1" font-size="36" text-anchor="middle">+</text>
<text x="1997.8" y="1681.1" font-size="36" text-anchor="middle">+</text>
<text x="1556.8" y="1735.6" font-size="37.3" text-anchor="end" transform="matrix(1 0 0 1.04 0 -69.42)"><tspan font-style="italic">FAD</tspan></text>
<text x="1639.8" y="1734.1" font-size="36" text-anchor="middle">-</text>
<text x="1711.4" y="1734.1" font-size="36" text-anchor="middle">-</text>
<text x="1783.7" y="1734.1" font-size="36" text-anchor="middle">+</text>
<text x="1852.6" y="1734.1" font-size="36" text-anchor="middle">+</text>
<text x="1923.1" y="1734.1" font-size="36" text-anchor="middle">+</text>
<text x="1997.8" y="1734.1" font-size="36" text-anchor="middle">+</text>
<text x="1555.5" y="1787.4" font-size="37.3" text-anchor="end">Vehicle</text>
<text x="1639.8" y="1785.9" font-size="36" text-anchor="middle">-</text>
<text x="1711.4" y="1785.9" font-size="36" text-anchor="middle">-</text>
<text x="1783.7" y="1785.9" font-size="36" text-anchor="middle">+</text>
<text x="1852.6" y="1785.9" font-size="36" text-anchor="middle">-</text>
<text x="1923.1" y="1785.9" font-size="36" text-anchor="middle">+</text>
<text x="1997.8" y="1785.9" font-size="36" text-anchor="middle">-</text>
<text x="1555.5" y="1835.4" font-size="37.3" text-anchor="end">Debio-025</text>
<text x="1639.8" y="1833.9" font-size="36" text-anchor="middle">-</text>
<text x="1711.4" y="1833.9" font-size="36" text-anchor="middle">-</text>
<text x="1783.7" y="1833.9" font-size="36" text-anchor="middle">-</text>
<text x="1852.6" y="1833.9" font-size="36" text-anchor="middle">+</text>
<text x="1923.1" y="1833.9" font-size="36" text-anchor="middle">-</text>
<text x="1997.8" y="1833.9" font-size="36" text-anchor="middle">+</text>
<circle cx="273.2" cy="203.8" r="8.4" fill="none" stroke="#0a0af0" stroke-width="3.2"/>
<circle cx="243.9" cy="216.3" r="8.4" fill="none" stroke="#0a0af0" stroke-width="3.2"/>
<circle cx="272.2" cy="234.1" r="8.4" fill="none" stroke="#0a0af0" stroke-width="3.2"/>
<circle cx="258.3" cy="262.4" r="8.4" fill="none" stroke="#0a0af0" stroke-width="3.2"/>
<path d="M236.5,204.8 L280.5,204.8 C280.7,206.5 281.8,211.3 281.5,215.0 C281.2,218.7 279.9,222.8 278.5,226.7 C277.1,230.6 274.7,235.3 273.0,238.6 C271.3,241.9 269.2,243.9 268.5,246.5 C267.8,249.1 268.5,251.8 269.0,254.4 C269.5,257.1 271.1,261.1 271.5,262.4 L245.5,262.4 C245.9,261.1 247.5,257.1 248.0,254.4 C248.5,251.8 249.2,249.1 248.5,246.5 C247.8,243.9 245.7,241.9 244.0,238.6 C242.3,235.3 239.9,230.6 238.5,226.7 C237.1,222.8 235.8,218.7 235.5,215.0 C235.2,211.3 236.3,206.5 236.5,204.8 Z" fill="none" stroke="#0a0af0" stroke-width="3.0" stroke-linejoin="round"/>
<line x1="238.1" y1="225.2" x2="278.9" y2="225.2" stroke="#0a0af0" stroke-width="3.4"/>
<line x1="236.3" y1="207.3" x2="280.7" y2="207.3" stroke="#0a0af0" stroke-width="3.0" stroke-dasharray="5,3"/>
<line x1="246.9" y1="258.0" x2="270.1" y2="258.0" stroke="#0a0af0" stroke-width="3.0" stroke-dasharray="5,3"/>
<circle cx="314.3" cy="259.9" r="9.0" fill="#0a0af0" stroke="#0a0af0" stroke-width="2.2"/>
<circle cx="329.5" cy="271.0" r="9.0" fill="#0a0af0" stroke="#0a0af0" stroke-width="2.2"/>
<circle cx="344.0" cy="267.5" r="9.0" fill="#0a0af0" stroke="#0a0af0" stroke-width="2.2"/>
<circle cx="347.0" cy="270.0" r="9.0" fill="#0a0af0" stroke="#0a0af0" stroke-width="2.2"/>
<circle cx="329.2" cy="304.0" r="9.0" fill="#0a0af0" stroke="#0a0af0" stroke-width="2.2"/>
<path d="M310.0,260.4 L350.0,260.4 C350.0,262.7 352.5,270.3 350.0,274.3 C347.5,278.3 337.8,281.7 335.0,284.2 C332.2,286.7 332.8,287.5 333.0,289.2 C333.2,290.9 335.7,291.6 336.0,294.1 C336.3,296.6 335.2,302.4 335.0,304.0 L325.0,304.0 C324.8,302.4 323.7,296.6 324.0,294.1 C324.3,291.6 326.8,290.9 327.0,289.2 C327.2,287.5 327.8,286.7 325.0,284.2 C322.2,281.7 312.5,278.3 310.0,274.3 C307.5,270.3 310.0,262.7 310.0,260.4 Z" fill="none" stroke="#0a0af0" stroke-width="3.0" stroke-linejoin="round"/>
<line x1="310.0" y1="270.0" x2="350.0" y2="270.0" stroke="#0a0af0" stroke-width="3.4"/>
<line x1="310.0" y1="264.0" x2="350.0" y2="264.0" stroke="#0a0af0" stroke-width="3.0" stroke-dasharray="5,3"/>
<line x1="326.5" y1="290.0" x2="333.5" y2="290.0" stroke="#0a0af0" stroke-width="3.0" stroke-dasharray="5,3"/>
<circle cx="399.8" cy="279.3" r="8.4" fill="none" stroke="#ee1010" stroke-width="3.2"/>
<circle cx="384.4" cy="315.6" r="8.4" fill="none" stroke="#ee1010" stroke-width="3.2"/>
<circle cx="399.8" cy="321.5" r="8.4" fill="none" stroke="#ee1010" stroke-width="3.2"/>
<circle cx="415.1" cy="320.5" r="8.4" fill="none" stroke="#ee1010" stroke-width="3.2"/>
<circle cx="399.8" cy="344.3" r="8.4" fill="none" stroke="#ee1010" stroke-width="3.2"/>
<path d="M392.0,279.3 L408.0,279.3 C407.1,281.5 401.8,288.5 402.5,292.7 C403.2,296.9 408.6,300.8 412.0,304.6 C415.4,308.4 421.0,312.8 423.0,315.6 C425.0,318.4 425.7,319.2 424.0,321.5 C422.3,323.8 415.5,326.8 413.0,329.4 C410.5,332.0 409.7,334.9 409.0,337.4 C408.3,339.9 409.0,343.1 409.0,344.3 L391.0,344.3 C391.0,343.1 391.7,339.9 391.0,337.4 C390.3,334.9 389.5,332.0 387.0,329.4 C384.5,326.8 377.7,323.8 376.0,321.5 C374.3,319.2 375.0,318.4 377.0,315.6 C379.0,312.8 384.6,308.4 388.0,304.6 C391.4,300.8 396.8,296.9 397.5,292.7 C398.2,288.5 392.9,281.5 392.0,279.3 Z" fill="none" stroke="#ee1010" stroke-width="3.0" stroke-linejoin="round"/>
<line x1="376.1" y1="321.0" x2="423.9" y2="321.0" stroke="#f03a00" stroke-width="3.4"/>
<line x1="397.2" y1="292.0" x2="402.8" y2="292.0" stroke="#ee1010" stroke-width="3.0" stroke-dasharray="5,3"/>
<line x1="389.0" y1="333.4" x2="411.0" y2="333.4" stroke="#ee1010" stroke-width="3.0" stroke-dasharray="5,3"/>
<circle cx="462.8" cy="302.7" r="8.4" fill="none" stroke="#ee1010" stroke-width="3.2"/>
<circle cx="454.8" cy="318.5" r="8.4" fill="none" stroke="#ee1010" stroke-width="3.2"/>
<circle cx="463.5" cy="316.0" r="8.4" fill="none" stroke="#ee1010" stroke-width="3.2"/>
<circle cx="469.2" cy="317.0" r="8.4" fill="none" stroke="#ee1010" stroke-width="3.2"/>
<circle cx="476.0" cy="315.6" r="8.4" fill="none" stroke="#ee1010" stroke-width="3.2"/>
<circle cx="485.1" cy="321.5" r="8.4" fill="none" stroke="#ee1010" stroke-width="3.2"/>
<path d="M460.0,307.5 L480.0,307.5 C480.8,308.2 484.3,309.9 485.0,312.0 C485.7,314.1 484.2,318.7 484.0,320.0 L456.0,320.0 C455.8,318.7 454.3,314.1 455.0,312.0 C455.7,309.9 459.2,308.2 460.0,307.5 Z" fill="none" stroke="#ee1010" stroke-width="3.0" stroke-linejoin="round"/>
<line x1="455.5" y1="316.0" x2="484.5" y2="316.0" stroke="#f03a00" stroke-width="3.4"/>
<line x1="458.3" y1="309.0" x2="481.7" y2="309.0" stroke="#ee1010" stroke-width="3.0" stroke-dasharray="5,3"/>
<line x1="456.0" y1="320.0" x2="484.0" y2="320.0" stroke="#ee1010" stroke-width="3.0" stroke-dasharray="5,3"/>
<circle cx="526.3" cy="351.8" r="9.0" fill="#ff6464" stroke="#ee1010" stroke-width="2.2"/>
<circle cx="555.5" cy="365.2" r="9.0" fill="#ff6464" stroke="#ee1010" stroke-width="2.2"/>
<circle cx="526.3" cy="375.1" r="9.0" fill="#ff6464" stroke="#ee1010" stroke-width="2.2"/>
<circle cx="555.5" cy="385.0" r="9.0" fill="#ff6464" stroke="#ee1010" stroke-width="2.2"/>
<circle cx="526.3" cy="400.4" r="9.0" fill="#ff6464" stroke="#ee1010" stroke-width="2.2"/>
<path d="M524.6,351.3 L555.4,351.3 C556.5,354.3 560.9,363.5 562.0,369.1 C563.1,374.7 563.3,381.0 562.0,385.0 C560.7,389.0 555.5,390.5 554.0,393.0 C552.5,395.5 553.2,399.0 553.0,400.2 L527.0,400.2 C526.8,399.0 527.5,395.5 526.0,393.0 C524.5,390.5 519.3,389.0 518.0,385.0 C516.7,381.0 516.9,374.7 518.0,369.1 C519.1,363.5 523.5,354.3 524.6,351.3 Z" fill="none" stroke="#ee1010" stroke-width="3.0" stroke-linejoin="round"/>
<line x1="518.0" y1="375.1" x2="562.0" y2="375.1" stroke="#f03a00" stroke-width="3.4"/>
<line x1="522.0" y1="358.2" x2="558.0" y2="358.2" stroke="#ee1010" stroke-width="3.0" stroke-dasharray="5,3"/>
<line x1="525.0" y1="392.0" x2="555.0" y2="392.0" stroke="#ee1010" stroke-width="3.0" stroke-dasharray="5,3"/>
<circle cx="597.3" cy="294.6" r="9.0" fill="#ff6464" stroke="#ee1010" stroke-width="2.2"/>
<circle cx="626.5" cy="305.7" r="9.0" fill="#ff6464" stroke="#ee1010" stroke-width="2.2"/>
<circle cx="611.7" cy="319.9" r="9.0" fill="#ff6464" stroke="#ee1010" stroke-width="2.2"/>
<circle cx="597.3" cy="334.7" r="9.0" fill="#ff6464" stroke="#ee1010" stroke-width="2.2"/>
<circle cx="626.5" cy="334.7" r="9.0" fill="#ff6464" stroke="#ee1010" stroke-width="2.2"/>
<path d="M599.6,294.6 L625.0,294.6 C625.2,297.5 625.5,307.2 626.0,312.2 C626.5,317.2 627.1,320.9 628.3,324.6 C629.5,328.3 632.5,332.9 633.3,334.5 L591.3,334.5 C592.1,332.9 595.1,328.3 596.3,324.6 C597.5,320.9 598.0,317.2 598.6,312.2 C599.1,307.2 599.4,297.5 599.6,294.6 Z" fill="none" stroke="#ee1010" stroke-width="3.0" stroke-linejoin="round"/>
<line x1="597.3" y1="319.1" x2="627.3" y2="319.1" stroke="#f03a00" stroke-width="3.4"/>
<line x1="599.3" y1="300.3" x2="625.3" y2="300.3" stroke="#ee1010" stroke-width="3.0" stroke-dasharray="5,3"/>
<line x1="592.1" y1="333.0" x2="632.5" y2="333.0" stroke="#ee1010" stroke-width="3.0" stroke-dasharray="5,3"/>
<circle cx="948.2" cy="194.9" r="8.4" fill="none" stroke="#0a0af0" stroke-width="3.2"/>
<circle cx="918.9" cy="206.8" r="8.4" fill="none" stroke="#0a0af0" stroke-width="3.2"/>
<circle cx="948.2" cy="215.7" r="8.4" fill="none" stroke="#0a0af0" stroke-width="3.2"/>
<circle cx="933.3" cy="221.2" r="8.4" fill="none" stroke="#0a0af0" stroke-width="3.2"/>
<circle cx="933.3" cy="248.5" r="8.4" fill="none" stroke="#0a0af0" stroke-width="3.2"/>
<path d="M919.9,195.9 L948.7,195.9 C949.6,197.7 953.0,203.2 954.3,206.8 C955.6,210.4 956.7,214.7 956.3,217.7 C955.9,220.7 954.0,222.3 951.8,224.6 C949.6,226.9 945.5,229.8 943.3,231.6 C941.0,233.4 938.8,233.9 938.3,235.6 C937.8,237.2 939.3,239.3 940.3,241.5 C941.3,243.7 943.6,247.3 944.3,248.5 L924.3,248.5 C925.0,247.3 927.3,243.7 928.3,241.5 C929.3,239.3 930.8,237.2 930.3,235.6 C929.8,233.9 927.5,233.4 925.3,231.6 C923.0,229.8 919.0,226.9 916.8,224.6 C914.6,222.3 912.7,220.7 912.3,217.7 C911.9,214.7 913.0,210.4 914.3,206.8 C915.6,203.2 919.0,197.7 919.9,195.9 Z" fill="none" stroke="#0a0af0" stroke-width="3.0" stroke-linejoin="round"/>
<line x1="912.3" y1="217.7" x2="956.3" y2="217.7" stroke="#0a0af0" stroke-width="3.4"/>
<line x1="917.1" y1="201.3" x2="951.5" y2="201.3" stroke="#0a0af0" stroke-width="3.0" stroke-dasharray="5,3"/>
<line x1="929.5" y1="235.0" x2="939.0" y2="235.0" stroke="#0a0af0" stroke-width="3.0" stroke-dasharray="5,3"/>
<circle cx="989.8" cy="284.2" r="9.0" fill="#0a0af0" stroke="#0a0af0" stroke-width="2.2"/>
<circle cx="1018.6" cy="299.0" r="9.0" fill="#0a0af0" stroke="#0a0af0" stroke-width="2.2"/>
<circle cx="989.8" cy="325.8" r="9.0" fill="#0a0af0" stroke="#0a0af0" stroke-width="2.2"/>
<circle cx="1018.6" cy="329.8" r="9.0" fill="#0a0af0" stroke="#0a0af0" stroke-width="2.2"/>
<circle cx="1003.7" cy="349.6" r="9.0" fill="#0a0af0" stroke="#0a0af0" stroke-width="2.2"/>
<path d="M990.0,284.2 L1020.0,284.2 C1020.3,285.9 1022.7,290.8 1022.0,294.1 C1021.3,297.4 1017.0,301.0 1016.0,304.0 C1015.0,307.0 1015.0,308.9 1016.0,311.9 C1017.0,314.9 1020.5,318.9 1022.0,321.9 C1023.5,324.9 1024.6,327.2 1025.0,330.0 C1025.4,332.8 1025.5,334.9 1024.6,338.7 C1023.7,342.5 1020.5,350.3 1019.7,352.6 L990.3,352.6 C989.5,350.3 986.3,342.5 985.4,338.7 C984.5,334.9 984.6,332.8 985.0,330.0 C985.4,327.2 986.5,324.9 988.0,321.9 C989.5,318.9 993.0,314.9 994.0,311.9 C995.0,308.9 995.0,307.0 994.0,304.0 C993.0,301.0 988.7,297.4 988.0,294.1 C987.3,290.8 989.7,285.9 990.0,284.2 Z" fill="none" stroke="#0a0af0" stroke-width="3.0" stroke-linejoin="round"/>
<line x1="986.6" y1="325.8" x2="1023.4" y2="325.8" stroke="#0a0af0" stroke-width="3.4"/>
<line x1="988.5" y1="291.6" x2="1021.5" y2="291.6" stroke="#0a0af0" stroke-width="3.0" stroke-dasharray="5,3"/>
<line x1="985.9" y1="340.2" x2="1024.1" y2="340.2" stroke="#0a0af0" stroke-width="3.0" stroke-dasharray="5,3"/>
<circle cx="1074.8" cy="286.0" r="8.4" fill="none" stroke="#ee1010" stroke-width="3.2"/>
<circle cx="1060.2" cy="312.9" r="8.4" fill="none" stroke="#ee1010" stroke-width="3.2"/>
<circle cx="1088.8" cy="307.7" r="8.4" fill="none" stroke="#ee1010" stroke-width="3.2"/>
<circle cx="1089.3" cy="330.6" r="8.4" fill="none" stroke="#ee1010" stroke-width="3.2"/>
<circle cx="1074.8" cy="360.2" r="8.4" fill="none" stroke="#ee1010" stroke-width="3.2"/>
<path d="M1061.8,287.0 L1087.8,287.0 C1088.8,288.6 1092.0,292.2 1093.8,296.3 C1095.6,300.4 1098.8,307.6 1098.8,311.9 C1098.8,316.2 1095.6,318.8 1093.8,322.3 C1092.0,325.8 1089.6,329.2 1087.8,332.7 C1086.0,336.1 1083.8,340.2 1082.8,343.0 C1081.8,345.8 1081.4,346.7 1081.8,349.3 C1082.2,351.9 1084.6,356.8 1085.3,358.6 C1086.0,360.4 1085.7,359.9 1085.8,360.2 L1063.8,360.2 C1063.9,359.9 1063.6,360.4 1064.3,358.6 C1065.0,356.8 1067.4,351.9 1067.8,349.3 C1068.2,346.7 1067.8,345.8 1066.8,343.0 C1065.8,340.2 1063.6,336.1 1061.8,332.7 C1060.0,329.2 1057.6,325.8 1055.8,322.3 C1054.0,318.8 1050.8,316.2 1050.8,311.9 C1050.8,307.6 1054.0,300.4 1055.8,296.3 C1057.6,292.2 1060.8,288.6 1061.8,287.0 Z" fill="none" stroke="#ee1010" stroke-width="3.0" stroke-linejoin="round"/>
<line x1="1051.6" y1="313.5" x2="1098.0" y2="313.5" stroke="#f03a00" stroke-width="3.4"/>
<line x1="1055.6" y1="296.8" x2="1094.0" y2="296.8" stroke="#ee1010" stroke-width="3.0" stroke-dasharray="5,3"/>
<line x1="1067.2" y1="345.6" x2="1082.4" y2="345.6" stroke="#ee1010" stroke-width="3.0" stroke-dasharray="5,3"/>
<circle cx="1130.8" cy="278.2" r="8.4" fill="none" stroke="#ee1010" stroke-width="3.2"/>
<circle cx="1160.4" cy="290.1" r="8.4" fill="none" stroke="#ee1010" stroke-width="3.2"/>
<circle cx="1131.3" cy="300.0" r="8.4" fill="none" stroke="#ee1010" stroke-width="3.2"/>
<circle cx="1160.4" cy="315.0" r="8.4" fill="none" stroke="#ee1010" stroke-width="3.2"/>
<circle cx="1145.3" cy="397.0" r="8.4" fill="none" stroke="#ee1010" stroke-width="3.2"/>
<path d="M1126.0,279.2 L1164.0,279.2 C1164.7,280.8 1167.3,285.3 1168.0,289.0 C1168.7,292.7 1168.7,297.7 1168.0,301.5 C1167.3,305.3 1166.2,307.6 1164.0,311.9 C1161.8,316.2 1157.6,322.3 1155.0,327.5 C1152.4,332.7 1149.9,338.7 1148.5,343.0 C1147.1,347.3 1146.3,348.2 1146.5,353.4 C1146.7,358.6 1148.3,368.1 1149.5,374.2 C1150.7,380.2 1152.8,385.9 1153.5,389.7 C1154.2,393.5 1153.9,395.8 1154.0,397.0 L1136.0,397.0 C1136.1,395.8 1135.8,393.5 1136.5,389.7 C1137.2,385.9 1139.3,380.2 1140.5,374.2 C1141.7,368.1 1143.3,358.6 1143.5,353.4 C1143.7,348.2 1142.9,347.3 1141.5,343.0 C1140.1,338.7 1137.6,332.7 1135.0,327.5 C1132.4,322.3 1128.2,316.2 1126.0,311.9 C1123.8,307.6 1122.7,305.3 1122.0,301.5 C1121.3,297.7 1121.3,292.7 1122.0,289.0 C1122.7,285.3 1125.3,280.8 1126.0,279.2 Z" fill="none" stroke="#ee1010" stroke-width="3.0" stroke-linejoin="round"/>
<line x1="1122.0" y1="299.4" x2="1168.0" y2="299.4" stroke="#f03a00" stroke-width="3.4"/>
<line x1="1123.9" y1="284.4" x2="1166.1" y2="284.4" stroke="#ee1010" stroke-width="3.0" stroke-dasharray="5,3"/>
<line x1="1141.5" y1="343.0" x2="1148.5" y2="343.0" stroke="#ee1010" stroke-width="3.0" stroke-dasharray="5,3"/>
<circle cx="1216.0" cy="349.7" r="9.0" fill="#ff6464" stroke="#ee1010" stroke-width="2.2"/>
<circle cx="1201.6" cy="375.9" r="9.0" fill="#ff6464" stroke="#ee1010" stroke-width="2.2"/>
<circle cx="1216.0" cy="383.1" r="9.0" fill="#ff6464" stroke="#ee1010" stroke-width="2.2"/>
<circle cx="1230.5" cy="381.8" r="9.0" fill="#ff6464" stroke="#ee1010" stroke-width="2.2"/>
<circle cx="1216.4" cy="434.8" r="9.0" fill="#ff6464" stroke="#ee1010" stroke-width="2.2"/>
<path d="M1206.0,349.7 L1225.0,349.7 C1225.7,351.8 1227.2,358.3 1229.0,362.1 C1230.8,365.9 1233.8,369.3 1235.5,372.6 C1237.2,375.9 1239.7,379.1 1239.0,381.8 C1238.3,384.5 1234.0,386.7 1231.5,389.0 C1229.0,391.3 1225.7,393.3 1223.7,395.5 C1221.7,397.7 1220.5,399.9 1219.4,402.1 C1218.3,404.3 1217.5,406.4 1217.3,408.6 C1217.1,410.8 1217.9,413.0 1218.5,415.2 C1219.1,417.4 1219.7,418.4 1220.7,421.7 C1221.7,425.0 1223.9,432.6 1224.5,434.8 L1206.5,434.8 C1207.1,432.6 1209.3,425.0 1210.3,421.7 C1211.3,418.4 1211.9,417.4 1212.5,415.2 C1213.1,413.0 1213.9,410.8 1213.7,408.6 C1213.5,406.4 1212.7,404.3 1211.6,402.1 C1210.5,399.9 1209.3,397.7 1207.3,395.5 C1205.3,393.3 1202.0,391.3 1199.5,389.0 C1197.0,386.7 1192.7,384.5 1192.0,381.8 C1191.3,379.1 1193.8,375.9 1195.5,372.6 C1197.2,369.3 1200.2,365.9 1202.0,362.1 C1203.8,358.3 1205.3,351.8 1206.0,349.7 Z" fill="none" stroke="#ee1010" stroke-width="3.0" stroke-linejoin="round"/>
<line x1="1192.0" y1="381.8" x2="1239.0" y2="381.8" stroke="#f03a00" stroke-width="3.4"/>
<line x1="1202.0" y1="362.1" x2="1229.0" y2="362.1" stroke="#ee1010" stroke-width="3.0" stroke-dasharray="5,3"/>
<circle cx="1272.2" cy="297.9" r="9.0" fill="#ff6464" stroke="#ee1010" stroke-width="2.2"/>
<circle cx="1301.5" cy="306.3" r="9.0" fill="#ff6464" stroke="#ee1010" stroke-width="2.2"/>
<circle cx="1286.6" cy="314.2" r="9.0" fill="#ff6464" stroke="#ee1010" stroke-width="2.2"/>
<circle cx="1271.7" cy="334.1" r="9.0" fill="#ff6464" stroke="#ee1010" stroke-width="2.2"/>
<circle cx="1302.0" cy="331.6" r="9.0" fill="#ff6464" stroke="#ee1010" stroke-width="2.2"/>
<path d="M1272.8,297.9 L1300.2,297.9 C1300.8,299.9 1304.0,306.2 1303.5,309.8 C1303.0,313.4 1298.7,316.4 1297.0,319.7 C1295.3,323.0 1294.4,327.1 1293.5,329.6 C1292.6,332.1 1291.8,333.8 1291.5,334.6 L1281.5,334.6 C1281.2,333.8 1280.4,332.1 1279.5,329.6 C1278.6,327.1 1277.7,323.0 1276.0,319.7 C1274.3,316.4 1270.0,313.4 1269.5,309.8 C1269.0,306.2 1272.2,299.9 1272.8,297.9 Z" fill="none" stroke="#ee1010" stroke-width="3.0" stroke-linejoin="round"/>
<line x1="1272.4" y1="314.2" x2="1300.6" y2="314.2" stroke="#f03a00" stroke-width="3.4"/>
<line x1="1271.7" y1="301.8" x2="1301.3" y2="301.8" stroke="#ee1010" stroke-width="3.0" stroke-dasharray="5,3"/>
<line x1="1280.1" y1="331.0" x2="1292.9" y2="331.0" stroke="#ee1010" stroke-width="3.0" stroke-dasharray="5,3"/>
<circle cx="1605.9" cy="196.9" r="8.4" fill="none" stroke="#0a0af0" stroke-width="3.2"/>
<circle cx="1635.1" cy="211.7" r="8.4" fill="none" stroke="#0a0af0" stroke-width="3.2"/>
<circle cx="1605.9" cy="214.0" r="8.4" fill="none" stroke="#0a0af0" stroke-width="3.2"/>
<circle cx="1607.0" cy="219.0" r="8.4" fill="none" stroke="#0a0af0" stroke-width="3.2"/>
<circle cx="1605.9" cy="239.5" r="8.4" fill="none" stroke="#0a0af0" stroke-width="3.2"/>
<circle cx="1635.1" cy="239.5" r="8.4" fill="none" stroke="#0a0af0" stroke-width="3.2"/>
<path d="M1607.8,197.4 L1633.8,197.4 C1634.1,198.8 1634.5,202.4 1635.8,205.8 C1637.1,209.2 1642.6,214.2 1641.8,217.7 C1641.0,221.2 1632.0,224.2 1630.8,226.6 C1629.6,229.0 1633.1,229.8 1634.8,232.0 C1636.5,234.2 1639.8,238.2 1640.8,239.5 L1600.8,239.5 C1601.8,238.2 1605.1,234.2 1606.8,232.0 C1608.5,229.8 1612.0,229.0 1610.8,226.6 C1609.6,224.2 1600.6,221.2 1599.8,217.7 C1599.0,214.2 1604.5,209.2 1605.8,205.8 C1607.1,202.4 1607.5,198.8 1607.8,197.4 Z" fill="none" stroke="#0a0af0" stroke-width="3.0" stroke-linejoin="round"/>
<line x1="1600.1" y1="217.2" x2="1641.5" y2="217.2" stroke="#0a0af0" stroke-width="3.4"/>
<line x1="1606.2" y1="204.3" x2="1635.4" y2="204.3" stroke="#0a0af0" stroke-width="3.0" stroke-dasharray="5,3"/>
<line x1="1601.2" y1="239.0" x2="1640.4" y2="239.0" stroke="#0a0af0" stroke-width="3.0" stroke-dasharray="5,3"/>
<circle cx="1683.3" cy="300.5" r="9.0" fill="#0a0af0" stroke="#0a0af0" stroke-width="2.2"/>
<circle cx="1699.6" cy="306.0" r="9.0" fill="#0a0af0" stroke="#0a0af0" stroke-width="2.2"/>
<circle cx="1676.3" cy="330.3" r="9.0" fill="#0a0af0" stroke="#0a0af0" stroke-width="2.2"/>
<circle cx="1691.2" cy="327.8" r="9.0" fill="#0a0af0" stroke="#0a0af0" stroke-width="2.2"/>
<circle cx="1706.1" cy="327.8" r="9.0" fill="#0a0af0" stroke="#0a0af0" stroke-width="2.2"/>
<path d="M1683.5,300.5 L1699.5,300.5 C1698.7,302.8 1693.8,310.4 1694.5,314.0 C1695.2,317.6 1701.5,319.7 1703.5,322.0 C1705.5,324.3 1706.0,327.0 1706.5,328.0 L1676.5,328.0 C1677.0,327.0 1677.5,324.3 1679.5,322.0 C1681.5,319.7 1687.8,317.6 1688.5,314.0 C1689.2,310.4 1684.3,302.8 1683.5,300.5 Z" fill="none" stroke="#0a0af0" stroke-width="3.0" stroke-linejoin="round"/>
<line x1="1677.5" y1="326.0" x2="1705.5" y2="326.0" stroke="#0a0af0" stroke-width="3.4"/>
<line x1="1685.2" y1="305.0" x2="1697.8" y2="305.0" stroke="#0a0af0" stroke-width="3.0" stroke-dasharray="5,3"/>
<line x1="1676.5" y1="328.0" x2="1706.5" y2="328.0" stroke="#0a0af0" stroke-width="3.0" stroke-dasharray="5,3"/>
<circle cx="1761.1" cy="279.7" r="8.4" fill="none" stroke="#ee1010" stroke-width="3.2"/>
<circle cx="1776.5" cy="300.0" r="8.4" fill="none" stroke="#ee1010" stroke-width="3.2"/>
<circle cx="1746.7" cy="312.9" r="8.4" fill="none" stroke="#ee1010" stroke-width="3.2"/>
<circle cx="1746.7" cy="332.8" r="8.4" fill="none" stroke="#ee1010" stroke-width="3.2"/>
<circle cx="1776.5" cy="332.8" r="8.4" fill="none" stroke="#ee1010" stroke-width="3.2"/>
<path d="M1749.9,280.7 L1773.9,280.7 C1773.8,282.1 1772.6,285.2 1773.4,289.1 C1774.2,293.0 1777.3,299.0 1778.5,304.0 C1779.7,309.0 1780.4,314.1 1780.4,318.9 C1780.4,323.7 1778.7,330.5 1778.4,332.8 L1745.4,332.8 C1745.1,330.5 1743.4,323.7 1743.4,318.9 C1743.4,314.1 1744.1,309.0 1745.3,304.0 C1746.5,299.0 1749.6,293.0 1750.4,289.1 C1751.2,285.2 1750.0,282.1 1749.9,280.7 Z" fill="none" stroke="#ee1010" stroke-width="3.0" stroke-linejoin="round"/>
<line x1="1744.2" y1="312.9" x2="1779.6" y2="312.9" stroke="#f03a00" stroke-width="3.4"/>
<line x1="1749.4" y1="292.0" x2="1774.4" y2="292.0" stroke="#ee1010" stroke-width="3.0" stroke-dasharray="5,3"/>
<line x1="1745.3" y1="331.8" x2="1778.5" y2="331.8" stroke="#ee1010" stroke-width="3.0" stroke-dasharray="5,3"/>
<circle cx="1817.8" cy="284.4" r="8.4" fill="none" stroke="#ee1010" stroke-width="3.2"/>
<circle cx="1847.0" cy="301.0" r="8.4" fill="none" stroke="#ee1010" stroke-width="3.2"/>
<circle cx="1818.3" cy="344.6" r="8.4" fill="none" stroke="#ee1010" stroke-width="3.2"/>
<circle cx="1847.0" cy="345.2" r="8.4" fill="none" stroke="#ee1010" stroke-width="3.2"/>
<circle cx="1832.7" cy="365.8" r="8.4" fill="none" stroke="#ee1010" stroke-width="3.2"/>
<path d="M1818.4,284.4 L1846.4,284.4 C1846.6,285.7 1848.3,288.6 1847.4,292.4 C1846.5,296.2 1842.4,302.9 1840.9,307.3 C1839.4,311.7 1837.8,315.0 1838.4,318.8 C1839.0,322.6 1841.5,326.5 1844.4,330.3 C1847.3,334.1 1854.6,337.9 1855.9,341.7 C1857.2,345.5 1853.6,349.4 1852.4,353.2 C1851.2,357.0 1849.6,362.8 1849.0,364.7 L1815.8,364.7 C1815.2,362.8 1813.6,357.0 1812.4,353.2 C1811.2,349.4 1807.6,345.5 1808.9,341.7 C1810.2,337.9 1817.5,334.1 1820.4,330.3 C1823.3,326.5 1825.8,322.6 1826.4,318.8 C1827.0,315.0 1825.4,311.7 1823.9,307.3 C1822.4,302.9 1818.3,296.2 1817.4,292.4 C1816.5,288.6 1818.2,285.7 1818.4,284.4 Z" fill="none" stroke="#ee1010" stroke-width="3.0" stroke-linejoin="round"/>
<line x1="1810.0" y1="345.2" x2="1854.8" y2="345.2" stroke="#f03a00" stroke-width="3.4"/>
<line x1="1817.4" y1="292.4" x2="1847.4" y2="292.4" stroke="#ee1010" stroke-width="3.0" stroke-dasharray="5,3"/>
<line x1="1812.8" y1="354.4" x2="1852.0" y2="354.4" stroke="#ee1010" stroke-width="3.0" stroke-dasharray="5,3"/>
<circle cx="1888.9" cy="361.2" r="9.0" fill="#ff6464" stroke="#ee1010" stroke-width="2.2"/>
<circle cx="1917.5" cy="363.5" r="9.0" fill="#ff6464" stroke="#ee1010" stroke-width="2.2"/>
<circle cx="1888.3" cy="391.6" r="9.0" fill="#ff6464" stroke="#ee1010" stroke-width="2.2"/>
<circle cx="1917.5" cy="395.6" r="9.0" fill="#ff6464" stroke="#ee1010" stroke-width="2.2"/>
<circle cx="1903.2" cy="445.0" r="9.0" fill="#ff6464" stroke="#ee1010" stroke-width="2.2"/>
<path d="M1889.0,361.8 L1917.0,361.8 C1917.9,364.2 1921.2,370.9 1922.5,376.1 C1923.8,381.4 1925.4,388.7 1924.5,393.3 C1923.6,397.9 1919.4,400.7 1917.0,404.0 C1914.6,407.3 1911.6,410.0 1910.0,413.0 C1908.4,416.0 1907.7,418.6 1907.6,422.0 C1907.5,425.4 1908.8,429.7 1909.5,433.5 C1910.2,437.3 1911.6,443.1 1912.0,445.0 L1894.0,445.0 C1894.4,443.1 1895.8,437.3 1896.5,433.5 C1897.2,429.7 1898.5,425.4 1898.4,422.0 C1898.3,418.6 1897.6,416.0 1896.0,413.0 C1894.4,410.0 1891.4,407.3 1889.0,404.0 C1886.6,400.7 1882.4,397.9 1881.5,393.3 C1880.6,388.7 1882.2,381.4 1883.5,376.1 C1884.8,370.9 1888.1,364.2 1889.0,361.8 Z" fill="none" stroke="#ee1010" stroke-width="3.0" stroke-linejoin="round"/>
<line x1="1881.6" y1="392.2" x2="1924.4" y2="392.2" stroke="#f03a00" stroke-width="3.4"/>
<line x1="1888.7" y1="362.5" x2="1917.3" y2="362.5" stroke="#ee1010" stroke-width="3.0" stroke-dasharray="5,3"/>
<line x1="1897.2" y1="417.4" x2="1908.8" y2="417.4" stroke="#ee1010" stroke-width="3.0" stroke-dasharray="5,3"/>
<circle cx="1958.8" cy="272.4" r="9.0" fill="#ff6464" stroke="#ee1010" stroke-width="2.2"/>
<circle cx="1988.1" cy="287.8" r="9.0" fill="#ff6464" stroke="#ee1010" stroke-width="2.2"/>
<circle cx="1959.4" cy="292.4" r="9.0" fill="#ff6464" stroke="#ee1010" stroke-width="2.2"/>
<circle cx="1988.6" cy="315.9" r="9.0" fill="#ff6464" stroke="#ee1010" stroke-width="2.2"/>
<circle cx="1958.8" cy="330.8" r="9.0" fill="#ff6464" stroke="#ee1010" stroke-width="2.2"/>
<path d="M1958.8,272.9 L1988.2,272.9 C1988.6,276.3 1991.0,287.9 1990.5,293.6 C1990.0,299.3 1985.8,303.1 1985.0,307.3 C1984.2,311.5 1985.1,315.2 1985.5,318.8 C1985.9,322.4 1986.9,327.4 1987.2,329.1 L1959.8,329.1 C1960.1,327.4 1961.1,322.4 1961.5,318.8 C1961.9,315.2 1962.8,311.5 1962.0,307.3 C1961.2,303.1 1957.0,299.3 1956.5,293.6 C1956.0,287.9 1958.4,276.3 1958.8,272.9 Z" fill="none" stroke="#ee1010" stroke-width="3.0" stroke-linejoin="round"/>
<line x1="1956.5" y1="293.6" x2="1990.5" y2="293.6" stroke="#f03a00" stroke-width="3.4"/>
<line x1="1958.0" y1="280.4" x2="1989.0" y2="280.4" stroke="#ee1010" stroke-width="3.0" stroke-dasharray="5,3"/>
<line x1="1960.7" y1="323.4" x2="1986.3" y2="323.4" stroke="#ee1010" stroke-width="3.0" stroke-dasharray="5,3"/>
<circle cx="301.5" cy="1126.3" r="8.4" fill="none" stroke="#0a0af0" stroke-width="3.2"/>
<circle cx="271.4" cy="1142.0" r="8.4" fill="none" stroke="#0a0af0" stroke-width="3.2"/>
<circle cx="272.0" cy="1184.7" r="8.4" fill="none" stroke="#0a0af0" stroke-width="3.2"/>
<circle cx="299.6" cy="1195.4" r="8.4" fill="none" stroke="#0a0af0" stroke-width="3.2"/>
<circle cx="271.4" cy="1212.4" r="8.4" fill="none" stroke="#0a0af0" stroke-width="3.2"/>
<path d="M272.0,1126.3 L301.6,1126.3 C301.9,1127.8 303.5,1131.5 303.1,1135.1 C302.7,1138.7 300.7,1143.1 299.1,1147.7 C297.5,1152.3 293.5,1158.2 293.4,1162.8 C293.4,1167.4 296.2,1171.1 298.8,1175.3 C301.4,1179.5 307.3,1183.1 308.8,1187.9 C310.3,1192.7 309.0,1200.3 307.8,1204.2 C306.6,1208.1 302.8,1209.9 301.8,1211.1 L271.8,1211.1 C270.8,1209.9 267.0,1208.1 265.8,1204.2 C264.6,1200.3 263.3,1192.7 264.8,1187.9 C266.3,1183.1 272.2,1179.5 274.8,1175.3 C277.4,1171.1 280.2,1167.4 280.2,1162.8 C280.1,1158.2 276.1,1152.3 274.5,1147.7 C272.9,1143.1 270.9,1138.7 270.5,1135.1 C270.1,1131.5 271.8,1127.8 272.0,1126.3 Z" fill="none" stroke="#0a0af0" stroke-width="3.0" stroke-linejoin="round"/>
<line x1="266.3" y1="1186.0" x2="307.3" y2="1186.0" stroke="#0a0af0" stroke-width="3.4"/>
<line x1="270.9" y1="1132.6" x2="302.7" y2="1132.6" stroke="#0a0af0" stroke-width="3.0" stroke-dasharray="5,3"/>
<line x1="265.7" y1="1203.0" x2="307.9" y2="1203.0" stroke="#0a0af0" stroke-width="3.0" stroke-dasharray="5,3"/>
<circle cx="361.2" cy="1245.0" r="9.0" fill="#0a0af0" stroke="#0a0af0" stroke-width="2.2"/>
<circle cx="361.2" cy="1266.4" r="9.0" fill="#0a0af0" stroke="#0a0af0" stroke-width="2.2"/>
<circle cx="361.2" cy="1290.9" r="9.0" fill="#0a0af0" stroke="#0a0af0" stroke-width="2.2"/>
<circle cx="376.3" cy="1310.4" r="9.0" fill="#0a0af0" stroke="#0a0af0" stroke-width="2.2"/>
<circle cx="346.7" cy="1322.3" r="9.0" fill="#0a0af0" stroke="#0a0af0" stroke-width="2.2"/>
<path d="M345.5,1246.3 L378.1,1246.3 C378.4,1248.7 380.1,1256.3 379.8,1260.8 C379.5,1265.3 376.7,1269.1 376.3,1273.3 C375.9,1277.5 376.5,1280.7 377.5,1285.9 C378.5,1291.1 381.5,1298.9 382.3,1304.7 C383.1,1310.5 382.5,1318.3 382.5,1321.0 L341.1,1321.0 C341.1,1318.3 340.5,1310.5 341.3,1304.7 C342.1,1298.9 345.1,1291.1 346.1,1285.9 C347.1,1280.7 347.7,1277.5 347.3,1273.3 C346.9,1269.1 344.1,1265.3 343.8,1260.8 C343.5,1256.3 345.2,1248.7 345.5,1246.3 Z" fill="none" stroke="#0a0af0" stroke-width="3.0" stroke-linejoin="round"/>
<line x1="344.8" y1="1290.9" x2="378.8" y2="1290.9" stroke="#0a0af0" stroke-width="3.4"/>
<line x1="344.3" y1="1256.4" x2="379.3" y2="1256.4" stroke="#0a0af0" stroke-width="3.0" stroke-dasharray="5,3"/>
<line x1="341.1" y1="1317.3" x2="382.5" y2="1317.3" stroke="#0a0af0" stroke-width="3.0" stroke-dasharray="5,3"/>
<circle cx="436.3" cy="1255.5" r="8.4" fill="none" stroke="#ee1010" stroke-width="3.2"/>
<circle cx="422.0" cy="1289.9" r="8.4" fill="none" stroke="#ee1010" stroke-width="3.2"/>
<circle cx="450.6" cy="1284.7" r="8.4" fill="none" stroke="#ee1010" stroke-width="3.2"/>
<circle cx="451.2" cy="1305.4" r="8.4" fill="none" stroke="#ee1010" stroke-width="3.2"/>
<circle cx="422.0" cy="1319.1" r="8.4" fill="none" stroke="#ee1010" stroke-width="3.2"/>
<path d="M427.0,1255.5 L447.0,1255.5 C446.5,1257.9 442.9,1265.9 443.9,1269.8 C444.9,1273.7 451.1,1275.5 453.0,1279.0 C454.9,1282.5 454.5,1286.9 455.0,1290.5 C455.5,1294.1 456.5,1297.4 456.0,1300.8 C455.5,1304.2 452.8,1308.0 452.0,1311.1 C451.2,1314.1 451.5,1317.8 451.4,1319.1 L422.6,1319.1 C422.5,1317.8 422.8,1314.1 422.0,1311.1 C421.2,1308.0 418.5,1304.2 418.0,1300.8 C417.5,1297.4 418.5,1294.1 419.0,1290.5 C419.5,1286.9 419.1,1282.5 421.0,1279.0 C422.9,1275.5 429.1,1273.7 430.1,1269.8 C431.1,1265.9 427.5,1257.9 427.0,1255.5 Z" fill="none" stroke="#ee1010" stroke-width="3.0" stroke-linejoin="round"/>
<line x1="419.1" y1="1289.9" x2="454.9" y2="1289.9" stroke="#f03a00" stroke-width="3.4"/>
<line x1="429.5" y1="1270.4" x2="444.5" y2="1270.4" stroke="#ee1010" stroke-width="3.0" stroke-dasharray="5,3"/>
<line x1="422.1" y1="1312.8" x2="451.9" y2="1312.8" stroke="#ee1010" stroke-width="3.0" stroke-dasharray="5,3"/>
<circle cx="496.5" cy="1281.3" r="8.4" fill="none" stroke="#ee1010" stroke-width="3.2"/>
<circle cx="526.3" cy="1288.2" r="8.4" fill="none" stroke="#ee1010" stroke-width="3.2"/>
<circle cx="496.5" cy="1301.4" r="8.4" fill="none" stroke="#ee1010" stroke-width="3.2"/>
<circle cx="525.7" cy="1316.8" r="8.4" fill="none" stroke="#ee1010" stroke-width="3.2"/>
<circle cx="510.8" cy="1338.0" r="8.4" fill="none" stroke="#ee1010" stroke-width="3.2"/>
<path d="M488.5,1283.6 L533.7,1283.6 C533.6,1284.9 534.1,1288.5 533.1,1291.6 C532.1,1294.6 529.2,1298.1 527.7,1301.9 C526.2,1305.7 525.3,1310.3 524.3,1314.5 C523.3,1318.7 522.2,1323.6 521.9,1327.2 C521.6,1330.8 522.5,1334.8 522.6,1336.3 L499.6,1336.3 C499.7,1334.8 500.6,1330.8 500.3,1327.2 C500.0,1323.6 498.9,1318.7 497.9,1314.5 C496.9,1310.3 496.0,1305.7 494.5,1301.9 C493.0,1298.1 490.1,1294.6 489.1,1291.6 C488.1,1288.5 488.6,1284.9 488.5,1283.6 Z" fill="none" stroke="#ee1010" stroke-width="3.0" stroke-linejoin="round"/>
<line x1="494.5" y1="1301.9" x2="527.7" y2="1301.9" stroke="#f03a00" stroke-width="3.4"/>
<line x1="488.6" y1="1284.7" x2="533.6" y2="1284.7" stroke="#ee1010" stroke-width="3.0" stroke-dasharray="5,3"/>
<line x1="500.3" y1="1327.2" x2="521.9" y2="1327.2" stroke="#ee1010" stroke-width="3.0" stroke-dasharray="5,3"/>
<circle cx="543.9" cy="1371.0" r="9.0" fill="#ff6464" stroke="#ee1010" stroke-width="2.2"/>
<circle cx="559.0" cy="1370.3" r="9.0" fill="#ff6464" stroke="#ee1010" stroke-width="2.2"/>
<circle cx="573.3" cy="1382.8" r="9.0" fill="#ff6464" stroke="#ee1010" stroke-width="2.2"/>
<circle cx="566.2" cy="1422.0" r="9.0" fill="#ff6464" stroke="#ee1010" stroke-width="2.2"/>
<circle cx="550.6" cy="1437.2" r="9.0" fill="#ff6464" stroke="#ee1010" stroke-width="2.2"/>
<path d="M540.5,1370.7 L578.5,1370.7 C578.2,1372.6 578.2,1379.1 577.0,1382.2 C575.8,1385.3 573.4,1385.7 571.5,1389.1 C569.6,1392.5 566.1,1397.9 565.5,1402.6 C564.9,1407.2 567.1,1412.8 567.7,1417.0 C568.3,1421.2 568.8,1424.7 569.0,1428.0 C569.2,1431.3 569.0,1435.5 569.0,1437.0 L550.0,1437.0 C550.0,1435.5 549.8,1431.3 550.0,1428.0 C550.2,1424.7 550.7,1421.2 551.3,1417.0 C551.9,1412.8 554.1,1407.2 553.5,1402.6 C552.9,1397.9 549.4,1392.5 547.5,1389.1 C545.6,1385.7 543.2,1385.3 542.0,1382.2 C540.8,1379.1 540.8,1372.6 540.5,1370.7 Z" fill="none" stroke="#ee1010" stroke-width="3.0" stroke-linejoin="round"/>
<line x1="541.8" y1="1381.0" x2="577.2" y2="1381.0" stroke="#f03a00" stroke-width="3.4"/>
<line x1="540.7" y1="1371.9" x2="578.3" y2="1371.9" stroke="#ee1010" stroke-width="3.0" stroke-dasharray="5,3"/>
<line x1="550.0" y1="1432.0" x2="569.0" y2="1432.0" stroke="#ee1010" stroke-width="3.0" stroke-dasharray="5,3"/>
<circle cx="623.7" cy="1253.4" r="9.0" fill="#ff6464" stroke="#ee1010" stroke-width="2.2"/>
<circle cx="609.1" cy="1275.5" r="9.0" fill="#ff6464" stroke="#ee1010" stroke-width="2.2"/>
<circle cx="638.2" cy="1275.5" r="9.0" fill="#ff6464" stroke="#ee1010" stroke-width="2.2"/>
<circle cx="623.7" cy="1300.3" r="9.0" fill="#ff6464" stroke="#ee1010" stroke-width="2.2"/>
<circle cx="623.7" cy="1337.2" r="9.0" fill="#ff6464" stroke="#ee1010" stroke-width="2.2"/>
<path d="M609.8,1253.4 L638.2,1253.4 C638.9,1254.8 640.9,1258.8 642.5,1262.0 C644.1,1265.2 647.8,1269.0 648.0,1272.6 C648.2,1276.1 645.6,1279.8 644.0,1283.3 C642.4,1286.8 640.3,1290.4 638.5,1293.9 C636.7,1297.5 634.6,1301.0 633.3,1304.6 C631.9,1308.1 630.9,1312.2 630.4,1315.2 C629.9,1318.2 629.8,1319.9 630.0,1322.3 C630.2,1324.7 630.8,1326.9 631.5,1329.4 C632.2,1331.9 633.6,1335.9 634.0,1337.2 L614.0,1337.2 C614.4,1335.9 615.8,1331.9 616.5,1329.4 C617.2,1326.9 617.8,1324.7 618.0,1322.3 C618.2,1319.9 618.1,1318.2 617.6,1315.2 C617.1,1312.2 616.1,1308.1 614.7,1304.6 C613.4,1301.0 611.3,1297.5 609.5,1293.9 C607.7,1290.4 605.6,1286.8 604.0,1283.3 C602.4,1279.8 599.8,1276.1 600.0,1272.6 C600.2,1269.0 603.9,1265.2 605.5,1262.0 C607.1,1258.8 609.1,1254.8 609.8,1253.4 Z" fill="none" stroke="#ee1010" stroke-width="3.0" stroke-linejoin="round"/>
<line x1="600.3" y1="1273.3" x2="647.7" y2="1273.3" stroke="#f03a00" stroke-width="3.4"/>
<line x1="604.0" y1="1264.8" x2="644.0" y2="1264.8" stroke="#ee1010" stroke-width="3.0" stroke-dasharray="5,3"/>
<line x1="617.8" y1="1318.8" x2="630.2" y2="1318.8" stroke="#ee1010" stroke-width="3.0" stroke-dasharray="5,3"/>
<circle cx="970.5" cy="1161.6" r="8.4" fill="none" stroke="#0a0af0" stroke-width="2.2"/>
<circle cx="985.5" cy="1188.6" r="8.4" fill="none" stroke="#0a0af0" stroke-width="2.2"/>
<circle cx="956.6" cy="1202.5" r="8.4" fill="none" stroke="#0a0af0" stroke-width="2.2"/>
<circle cx="985.5" cy="1210.9" r="8.4" fill="none" stroke="#0a0af0" stroke-width="2.2"/>
<circle cx="970.5" cy="1219.9" r="8.4" fill="none" stroke="#0a0af0" stroke-width="2.2"/>
<circle cx="963.2" cy="1238.5" r="8.4" fill="none" stroke="#0a0af0" stroke-width="2.2"/>
<circle cx="977.7" cy="1242.7" r="8.4" fill="none" stroke="#0a0af0" stroke-width="2.2"/>
<circle cx="970.5" cy="1278.7" r="8.4" fill="none" stroke="#0a0af0" stroke-width="2.2"/>
<path d="M961.4,1161.6 L980.0,1161.6 C980.2,1164.0 980.2,1171.6 981.2,1176.0 C982.2,1180.4 983.8,1184.0 985.7,1188.0 C987.6,1192.0 991.5,1195.6 992.7,1200.0 C993.9,1204.4 993.5,1209.5 993.0,1214.5 C992.5,1219.5 991.2,1224.4 989.7,1230.0 C988.2,1235.6 986.2,1243.0 984.2,1248.0 C982.2,1253.0 978.9,1256.4 977.7,1260.0 C976.5,1263.6 976.9,1266.6 977.2,1269.7 C977.5,1272.8 979.3,1277.2 979.7,1278.7 L961.7,1278.7 C962.1,1277.2 963.9,1272.8 964.2,1269.7 C964.5,1266.6 964.9,1263.6 963.7,1260.0 C962.5,1256.4 959.2,1253.0 957.2,1248.0 C955.2,1243.0 953.2,1235.6 951.7,1230.0 C950.2,1224.4 948.9,1219.5 948.4,1214.5 C947.9,1209.5 947.5,1204.4 948.7,1200.0 C949.9,1195.6 953.8,1192.0 955.7,1188.0 C957.6,1184.0 959.2,1180.4 960.2,1176.0 C961.2,1171.6 961.2,1164.0 961.4,1161.6 Z" fill="none" stroke="#0a0af0" stroke-width="2.1" stroke-linejoin="round"/>
<line x1="948.7" y1="1215.7" x2="992.7" y2="1215.7" stroke="#0a0af0" stroke-width="2.5"/>
<line x1="953.2" y1="1192.3" x2="988.2" y2="1192.3" stroke="#0a0af0" stroke-width="2.1" stroke-dasharray="5,3"/>
<line x1="955.8" y1="1243.3" x2="985.6" y2="1243.3" stroke="#0a0af0" stroke-width="2.1" stroke-dasharray="5,3"/>
<circle cx="1041.3" cy="1255.9" r="8.9" fill="#0a0af0" stroke="#0a0af0" stroke-width="1.8"/>
<circle cx="1033.5" cy="1273.3" r="8.9" fill="#0a0af0" stroke="#0a0af0" stroke-width="1.8"/>
<circle cx="1049.1" cy="1283.0" r="8.9" fill="#0a0af0" stroke="#0a0af0" stroke-width="1.8"/>
<circle cx="1026.9" cy="1314.2" r="8.9" fill="#0a0af0" stroke="#0a0af0" stroke-width="1.8"/>
<circle cx="1041.3" cy="1310.0" r="8.9" fill="#0a0af0" stroke="#0a0af0" stroke-width="1.8"/>
<circle cx="1056.3" cy="1319.0" r="8.9" fill="#0a0af0" stroke="#0a0af0" stroke-width="1.8"/>
<circle cx="1034.1" cy="1341.8" r="8.9" fill="#0a0af0" stroke="#0a0af0" stroke-width="1.8"/>
<circle cx="1049.1" cy="1341.8" r="8.9" fill="#0a0af0" stroke="#0a0af0" stroke-width="1.8"/>
<path d="M1034.0,1250.5 L1050.0,1250.5 C1050.9,1254.1 1055.1,1265.5 1055.5,1272.1 C1055.9,1278.7 1051.8,1284.2 1052.5,1290.2 C1053.2,1296.2 1058.9,1302.2 1060.0,1308.2 C1061.1,1314.2 1059.2,1320.6 1059.0,1326.2 C1058.8,1331.8 1059.0,1339.2 1059.0,1341.8 L1025.0,1341.8 C1025.0,1339.2 1025.2,1331.8 1025.0,1326.2 C1024.8,1320.6 1022.9,1314.2 1024.0,1308.2 C1025.1,1302.2 1030.8,1296.2 1031.5,1290.2 C1032.2,1284.2 1028.1,1278.7 1028.5,1272.1 C1028.9,1265.5 1033.1,1254.1 1034.0,1250.5 Z" fill="none" stroke="#0a0af0" stroke-width="2.1" stroke-linejoin="round"/>
<line x1="1024.1" y1="1310.0" x2="1059.9" y2="1310.0" stroke="#0a0af0" stroke-width="2.5"/>
<line x1="1029.0" y1="1275.0" x2="1055.0" y2="1275.0" stroke="#0a0af0" stroke-width="2.1" stroke-dasharray="5,3"/>
<line x1="1025.0" y1="1335.0" x2="1059.0" y2="1335.0" stroke="#0a0af0" stroke-width="2.1" stroke-dasharray="5,3"/>
<circle cx="1112.5" cy="1253.7" r="8.4" fill="none" stroke="#ee1010" stroke-width="2.2"/>
<circle cx="1126.9" cy="1299.2" r="8.4" fill="none" stroke="#ee1010" stroke-width="2.2"/>
<circle cx="1112.0" cy="1312.2" r="8.4" fill="none" stroke="#ee1010" stroke-width="2.2"/>
<circle cx="1126.9" cy="1328.9" r="8.4" fill="none" stroke="#ee1010" stroke-width="2.2"/>
<circle cx="1098.1" cy="1337.7" r="8.4" fill="none" stroke="#ee1010" stroke-width="2.2"/>
<circle cx="1112.0" cy="1352.6" r="8.4" fill="none" stroke="#ee1010" stroke-width="2.2"/>
<circle cx="1126.9" cy="1351.6" r="8.4" fill="none" stroke="#ee1010" stroke-width="2.2"/>
<circle cx="1112.0" cy="1372.5" r="8.4" fill="none" stroke="#ee1010" stroke-width="2.2"/>
<path d="M1102.8,1253.7 L1120.8,1253.7 C1120.0,1255.9 1116.2,1261.8 1116.2,1267.1 C1116.2,1272.4 1119.2,1279.5 1120.9,1285.7 C1122.5,1291.9 1124.5,1298.1 1126.1,1304.3 C1127.7,1310.5 1128.9,1317.5 1130.3,1322.9 C1131.7,1328.3 1133.5,1331.8 1134.3,1336.8 C1135.0,1341.8 1135.8,1348.0 1134.8,1352.6 C1133.8,1357.2 1129.8,1361.3 1128.1,1364.6 C1126.4,1367.8 1125.3,1370.8 1124.8,1372.1 L1098.8,1372.1 C1098.2,1370.8 1097.2,1367.8 1095.5,1364.6 C1093.8,1361.3 1089.8,1357.2 1088.8,1352.6 C1087.8,1348.0 1088.5,1341.8 1089.3,1336.8 C1090.0,1331.8 1091.9,1328.3 1093.3,1322.9 C1094.7,1317.5 1095.9,1310.5 1097.5,1304.3 C1099.1,1298.1 1101.1,1291.9 1102.7,1285.7 C1104.3,1279.5 1107.4,1272.4 1107.4,1267.1 C1107.4,1261.8 1103.6,1255.9 1102.8,1253.7 Z" fill="none" stroke="#ee1010" stroke-width="2.1" stroke-linejoin="round"/>
<line x1="1090.4" y1="1333.1" x2="1133.2" y2="1333.1" stroke="#f03a00" stroke-width="2.5"/>
<line x1="1097.9" y1="1302.9" x2="1125.7" y2="1302.9" stroke="#ee1010" stroke-width="2.1" stroke-dasharray="5,3"/>
<line x1="1088.8" y1="1352.6" x2="1134.8" y2="1352.6" stroke="#ee1010" stroke-width="2.1" stroke-dasharray="5,3"/>
<circle cx="1164.4" cy="1269.8" r="8.4" fill="none" stroke="#ee1010" stroke-width="2.2"/>
<circle cx="1174.2" cy="1265.0" r="8.4" fill="none" stroke="#ee1010" stroke-width="2.2"/>
<circle cx="1187.6" cy="1265.6" r="8.4" fill="none" stroke="#ee1010" stroke-width="2.2"/>
<circle cx="1181.1" cy="1273.3" r="8.4" fill="none" stroke="#ee1010" stroke-width="2.2"/>
<circle cx="1198.3" cy="1275.7" r="8.4" fill="none" stroke="#ee1010" stroke-width="2.2"/>
<circle cx="1182.9" cy="1293.0" r="8.4" fill="none" stroke="#ee1010" stroke-width="2.2"/>
<circle cx="1187.0" cy="1309.6" r="8.4" fill="none" stroke="#ee1010" stroke-width="2.2"/>
<circle cx="1180.5" cy="1315.6" r="8.4" fill="none" stroke="#ee1010" stroke-width="2.2"/>
<path d="M1164.5,1266.8 L1202.5,1266.8 C1201.3,1268.7 1197.7,1274.1 1195.5,1278.0 C1193.3,1281.9 1191.2,1286.3 1189.5,1290.0 C1187.8,1293.7 1186.0,1297.5 1185.5,1300.0 C1185.0,1302.5 1185.5,1303.0 1186.5,1305.0 C1187.5,1307.0 1190.5,1310.2 1191.5,1312.0 C1192.5,1313.8 1192.3,1315.0 1192.5,1315.6 L1174.5,1315.6 C1174.7,1315.0 1174.5,1313.8 1175.5,1312.0 C1176.5,1310.2 1179.5,1307.0 1180.5,1305.0 C1181.5,1303.0 1182.0,1302.5 1181.5,1300.0 C1181.0,1297.5 1179.2,1293.7 1177.5,1290.0 C1175.8,1286.3 1173.7,1281.9 1171.5,1278.0 C1169.3,1274.1 1165.7,1268.7 1164.5,1266.8 Z" fill="none" stroke="#ee1010" stroke-width="2.1" stroke-linejoin="round"/>
<line x1="1165.2" y1="1268.0" x2="1201.8" y2="1268.0" stroke="#f03a00" stroke-width="2.5"/>
<line x1="1164.5" y1="1266.8" x2="1202.5" y2="1266.8" stroke="#ee1010" stroke-width="2.1" stroke-dasharray="5,3"/>
<line x1="1171.5" y1="1278.0" x2="1195.5" y2="1278.0" stroke="#ee1010" stroke-width="2.1" stroke-dasharray="5,3"/>
<circle cx="1261.0" cy="1292.0" r="8.9" fill="#ff6464" stroke="#ee1010" stroke-width="1.8"/>
<circle cx="1253.7" cy="1327.8" r="8.9" fill="#ff6464" stroke="#ee1010" stroke-width="1.8"/>
<circle cx="1268.3" cy="1323.2" r="8.9" fill="#ff6464" stroke="#ee1010" stroke-width="1.8"/>
<circle cx="1261.0" cy="1353.8" r="8.9" fill="#ff6464" stroke="#ee1010" stroke-width="1.8"/>
<circle cx="1246.0" cy="1384.4" r="8.9" fill="#ff6464" stroke="#ee1010" stroke-width="1.8"/>
<circle cx="1261.0" cy="1378.2" r="8.9" fill="#ff6464" stroke="#ee1010" stroke-width="1.8"/>
<circle cx="1276.1" cy="1380.2" r="8.9" fill="#ff6464" stroke="#ee1010" stroke-width="1.8"/>
<path d="M1252.0,1292.0 L1270.0,1292.0 C1269.8,1293.9 1268.3,1299.8 1268.8,1303.4 C1269.3,1307.0 1271.4,1310.3 1272.9,1313.8 C1274.4,1317.3 1277.9,1319.9 1278.0,1324.2 C1278.1,1328.5 1274.2,1334.6 1273.3,1339.8 C1272.4,1345.0 1271.5,1350.5 1272.5,1355.3 C1273.5,1360.1 1277.5,1364.5 1279.4,1368.8 C1281.3,1373.1 1283.2,1379.2 1284.0,1381.3 L1238.0,1381.3 C1238.8,1379.2 1240.7,1373.1 1242.6,1368.8 C1244.5,1364.5 1248.5,1360.1 1249.5,1355.3 C1250.5,1350.5 1249.6,1345.0 1248.7,1339.8 C1247.8,1334.6 1243.9,1328.5 1244.0,1324.2 C1244.1,1319.9 1247.6,1317.3 1249.1,1313.8 C1250.6,1310.3 1252.7,1307.0 1253.2,1303.4 C1253.7,1299.8 1252.2,1293.9 1252.0,1292.0 Z" fill="none" stroke="#ee1010" stroke-width="2.1" stroke-linejoin="round"/>
<line x1="1249.4" y1="1353.0" x2="1272.6" y2="1353.0" stroke="#f03a00" stroke-width="2.5"/>
<line x1="1244.2" y1="1323.7" x2="1277.8" y2="1323.7" stroke="#ee1010" stroke-width="2.1" stroke-dasharray="5,3"/>
<line x1="1238.4" y1="1380.2" x2="1283.6" y2="1380.2" stroke="#ee1010" stroke-width="2.1" stroke-dasharray="5,3"/>
<circle cx="1308.2" cy="1216.7" r="8.9" fill="#ff6464" stroke="#ee1010" stroke-width="1.8"/>
<circle cx="1308.2" cy="1241.1" r="8.9" fill="#ff6464" stroke="#ee1010" stroke-width="1.8"/>
<circle cx="1303.6" cy="1276.4" r="8.9" fill="#ff6464" stroke="#ee1010" stroke-width="1.8"/>
<circle cx="1292.7" cy="1287.9" r="8.9" fill="#ff6464" stroke="#ee1010" stroke-width="1.8"/>
<circle cx="1313.4" cy="1291.0" r="8.9" fill="#ff6464" stroke="#ee1010" stroke-width="1.8"/>
<circle cx="1303.6" cy="1302.4" r="8.9" fill="#ff6464" stroke="#ee1010" stroke-width="1.8"/>
<circle cx="1323.3" cy="1303.4" r="8.9" fill="#ff6464" stroke="#ee1010" stroke-width="1.8"/>
<circle cx="1308.2" cy="1345.0" r="8.9" fill="#ff6464" stroke="#ee1010" stroke-width="1.8"/>
<path d="M1299.2,1216.7 L1317.2,1216.7 C1317.2,1220.8 1317.7,1234.4 1317.2,1241.1 C1316.7,1247.8 1313.7,1251.5 1314.4,1256.7 C1315.1,1261.9 1318.6,1267.1 1321.2,1272.3 C1323.8,1277.5 1329.0,1282.7 1330.2,1287.9 C1331.4,1293.1 1330.7,1298.2 1328.2,1303.4 C1325.7,1308.6 1318.0,1314.7 1315.4,1319.0 C1312.8,1323.3 1312.9,1325.9 1312.7,1329.4 C1312.5,1332.9 1313.5,1337.2 1314.2,1339.8 C1315.0,1342.4 1316.7,1344.1 1317.2,1345.0 L1299.2,1345.0 C1299.7,1344.1 1301.5,1342.4 1302.2,1339.8 C1303.0,1337.2 1303.9,1332.9 1303.7,1329.4 C1303.5,1325.9 1303.6,1323.3 1301.0,1319.0 C1298.4,1314.7 1290.7,1308.6 1288.2,1303.4 C1285.7,1298.2 1285.0,1293.1 1286.2,1287.9 C1287.4,1282.7 1292.6,1277.5 1295.2,1272.3 C1297.8,1267.1 1301.3,1261.9 1302.0,1256.7 C1302.7,1251.5 1299.7,1247.8 1299.2,1241.1 C1298.7,1234.4 1299.2,1220.8 1299.2,1216.7 Z" fill="none" stroke="#ee1010" stroke-width="2.1" stroke-linejoin="round"/>
<line x1="1286.6" y1="1291.0" x2="1329.8" y2="1291.0" stroke="#f03a00" stroke-width="2.5"/>
<line x1="1299.2" y1="1217.3" x2="1317.2" y2="1217.3" stroke="#ee1010" stroke-width="2.1" stroke-dasharray="5,3"/>
<line x1="1288.1" y1="1302.9" x2="1328.3" y2="1302.9" stroke="#ee1010" stroke-width="2.1" stroke-dasharray="5,3"/>
<circle cx="1638.4" cy="1162.6" r="8.4" fill="none" stroke="#0a0af0" stroke-width="3.2"/>
<circle cx="1653.7" cy="1173.5" r="8.4" fill="none" stroke="#0a0af0" stroke-width="3.2"/>
<circle cx="1645.5" cy="1203.5" r="8.4" fill="none" stroke="#0a0af0" stroke-width="3.2"/>
<circle cx="1660.8" cy="1213.3" r="8.4" fill="none" stroke="#0a0af0" stroke-width="3.2"/>
<circle cx="1631.8" cy="1222.6" r="8.4" fill="none" stroke="#0a0af0" stroke-width="3.2"/>
<circle cx="1660.2" cy="1230.3" r="8.4" fill="none" stroke="#0a0af0" stroke-width="3.2"/>
<circle cx="1645.5" cy="1238.5" r="8.4" fill="none" stroke="#0a0af0" stroke-width="3.2"/>
<circle cx="1645.5" cy="1280.5" r="8.4" fill="none" stroke="#0a0af0" stroke-width="3.2"/>
<path d="M1633.5,1164.2 L1659.7,1164.2 C1659.6,1166.4 1659.7,1173.3 1659.1,1177.3 C1658.5,1181.3 1655.4,1183.7 1656.1,1188.2 C1656.8,1192.8 1660.7,1199.3 1663.0,1204.6 C1665.3,1209.9 1669.9,1214.4 1670.1,1219.9 C1670.3,1225.4 1666.8,1231.8 1664.1,1237.4 C1661.4,1243.0 1655.9,1249.2 1654.1,1253.7 C1652.3,1258.2 1653.0,1261.1 1653.1,1264.7 C1653.2,1268.3 1654.2,1273.0 1654.6,1275.6 C1655.0,1278.2 1655.4,1279.7 1655.6,1280.5 L1637.6,1280.5 C1637.8,1279.7 1638.2,1278.2 1638.6,1275.6 C1639.0,1273.0 1640.0,1268.3 1640.1,1264.7 C1640.2,1261.1 1640.9,1258.2 1639.1,1253.7 C1637.3,1249.2 1631.8,1243.0 1629.1,1237.4 C1626.4,1231.8 1622.9,1225.4 1623.1,1219.9 C1623.3,1214.4 1627.9,1209.9 1630.2,1204.6 C1632.5,1199.3 1636.4,1192.8 1637.1,1188.2 C1637.8,1183.7 1634.7,1181.3 1634.1,1177.3 C1633.5,1173.3 1633.6,1166.4 1633.5,1164.2 Z" fill="none" stroke="#0a0af0" stroke-width="3.0" stroke-linejoin="round"/>
<line x1="1623.6" y1="1218.8" x2="1669.6" y2="1218.8" stroke="#0a0af0" stroke-width="3.4"/>
<line x1="1635.0" y1="1180.6" x2="1658.2" y2="1180.6" stroke="#0a0af0" stroke-width="3.0" stroke-dasharray="5,3"/>
<line x1="1629.1" y1="1237.4" x2="1664.1" y2="1237.4" stroke="#0a0af0" stroke-width="3.0" stroke-dasharray="5,3"/>
<circle cx="1717.6" cy="1243.9" r="9.0" fill="#0a0af0" stroke="#0a0af0" stroke-width="2.2"/>
<circle cx="1701.2" cy="1253.2" r="9.0" fill="#0a0af0" stroke="#0a0af0" stroke-width="2.2"/>
<circle cx="1716.5" cy="1266.9" r="9.0" fill="#0a0af0" stroke="#0a0af0" stroke-width="2.2"/>
<circle cx="1716.5" cy="1284.9" r="9.0" fill="#0a0af0" stroke="#0a0af0" stroke-width="2.2"/>
<circle cx="1701.2" cy="1307.3" r="9.0" fill="#0a0af0" stroke="#0a0af0" stroke-width="2.2"/>
<circle cx="1717.0" cy="1310.5" r="9.0" fill="#0a0af0" stroke="#0a0af0" stroke-width="2.2"/>
<circle cx="1731.2" cy="1319.3" r="9.0" fill="#0a0af0" stroke="#0a0af0" stroke-width="2.2"/>
<circle cx="1701.7" cy="1329.1" r="9.0" fill="#0a0af0" stroke="#0a0af0" stroke-width="2.2"/>
<path d="M1705.0,1245.0 L1731.0,1245.0 C1731.3,1247.4 1732.9,1254.1 1732.7,1259.2 C1732.5,1264.3 1730.1,1269.8 1730.0,1275.6 C1729.9,1281.4 1730.5,1288.8 1732.0,1294.2 C1733.5,1299.7 1737.4,1303.2 1738.7,1308.3 C1740.0,1313.4 1740.8,1320.9 1740.0,1324.7 C1739.2,1328.5 1735.0,1330.2 1734.0,1331.3 L1702.0,1331.3 C1701.0,1330.2 1696.8,1328.5 1696.0,1324.7 C1695.2,1320.9 1696.0,1313.4 1697.3,1308.3 C1698.6,1303.2 1702.5,1299.7 1704.0,1294.2 C1705.5,1288.8 1706.1,1281.4 1706.0,1275.6 C1705.9,1269.8 1703.5,1264.3 1703.3,1259.2 C1703.1,1254.1 1704.7,1247.4 1705.0,1245.0 Z" fill="none" stroke="#0a0af0" stroke-width="3.0" stroke-linejoin="round"/>
<line x1="1703.5" y1="1295.2" x2="1732.5" y2="1295.2" stroke="#0a0af0" stroke-width="3.4"/>
<line x1="1703.6" y1="1256.5" x2="1732.4" y2="1256.5" stroke="#0a0af0" stroke-width="3.0" stroke-dasharray="5,3"/>
<line x1="1696.1" y1="1323.6" x2="1739.9" y2="1323.6" stroke="#0a0af0" stroke-width="3.0" stroke-dasharray="5,3"/>
<circle cx="1787.3" cy="1206.1" r="8.4" fill="none" stroke="#ee1010" stroke-width="3.2"/>
<circle cx="1782.7" cy="1254.8" r="8.4" fill="none" stroke="#ee1010" stroke-width="3.2"/>
<circle cx="1791.3" cy="1261.1" r="8.4" fill="none" stroke="#ee1010" stroke-width="3.2"/>
<circle cx="1772.4" cy="1291.5" r="8.4" fill="none" stroke="#ee1010" stroke-width="3.2"/>
<circle cx="1780.4" cy="1296.1" r="8.4" fill="none" stroke="#ee1010" stroke-width="3.2"/>
<circle cx="1789.6" cy="1293.8" r="8.4" fill="none" stroke="#ee1010" stroke-width="3.2"/>
<circle cx="1798.2" cy="1297.2" r="8.4" fill="none" stroke="#ee1010" stroke-width="3.2"/>
<circle cx="1799.3" cy="1303.0" r="8.4" fill="none" stroke="#ee1010" stroke-width="3.2"/>
<circle cx="1787.4" cy="1380.3" r="8.4" fill="none" stroke="#ee1010" stroke-width="3.2"/>
<path d="M1779.1,1206.1 L1796.1,1206.1 C1795.4,1208.2 1792.9,1214.7 1792.2,1218.7 C1791.4,1222.7 1790.9,1226.3 1791.6,1230.1 C1792.3,1233.9 1794.9,1237.8 1796.6,1241.6 C1798.3,1245.4 1801.9,1248.3 1802.0,1253.1 C1802.1,1257.9 1796.5,1264.6 1797.4,1270.3 C1798.3,1276.0 1805.3,1282.7 1807.6,1287.5 C1809.9,1292.3 1812.0,1295.2 1811.0,1299.0 C1810.0,1302.8 1805.0,1306.6 1801.6,1310.4 C1798.2,1314.2 1792.7,1317.1 1790.6,1321.9 C1788.5,1326.7 1789.0,1334.0 1788.8,1339.0 C1788.5,1344.0 1788.8,1348.3 1789.1,1352.0 C1789.4,1355.7 1790.1,1358.6 1790.6,1361.3 C1791.1,1364.0 1791.4,1366.1 1792.1,1368.2 C1792.8,1370.3 1793.8,1372.0 1794.6,1374.0 C1795.3,1376.0 1796.3,1379.2 1796.6,1380.3 L1778.6,1380.3 C1778.9,1379.2 1779.8,1376.0 1780.6,1374.0 C1781.3,1372.0 1782.4,1370.3 1783.1,1368.2 C1783.8,1366.1 1784.1,1364.0 1784.6,1361.3 C1785.1,1358.6 1785.8,1355.7 1786.1,1352.0 C1786.4,1348.3 1786.6,1344.0 1786.4,1339.0 C1786.1,1334.0 1786.7,1326.7 1784.6,1321.9 C1782.5,1317.1 1777.0,1314.2 1773.6,1310.4 C1770.2,1306.6 1765.2,1302.8 1764.2,1299.0 C1763.2,1295.2 1765.3,1292.3 1767.6,1287.5 C1769.9,1282.7 1776.9,1276.0 1777.8,1270.3 C1778.7,1264.6 1773.1,1257.9 1773.2,1253.1 C1773.3,1248.3 1776.9,1245.4 1778.6,1241.6 C1780.3,1237.8 1782.9,1233.9 1783.6,1230.1 C1784.3,1226.3 1783.8,1222.7 1783.0,1218.7 C1782.2,1214.7 1779.8,1208.2 1779.1,1206.1 Z" fill="none" stroke="#ee1010" stroke-width="3.0" stroke-linejoin="round"/>
<line x1="1765.9" y1="1293.2" x2="1809.3" y2="1293.2" stroke="#f03a00" stroke-width="3.4"/>
<line x1="1779.4" y1="1207.2" x2="1795.8" y2="1207.2" stroke="#ee1010" stroke-width="3.0" stroke-dasharray="5,3"/>
<line x1="1779.0" y1="1379.0" x2="1796.2" y2="1379.0" stroke="#ee1010" stroke-width="3.0" stroke-dasharray="5,3"/>
<circle cx="1857.8" cy="1202.6" r="8.4" fill="none" stroke="#ee1010" stroke-width="3.2"/>
<circle cx="1857.8" cy="1232.4" r="8.4" fill="none" stroke="#ee1010" stroke-width="3.2"/>
<circle cx="1871.6" cy="1231.3" r="8.4" fill="none" stroke="#ee1010" stroke-width="3.2"/>
<circle cx="1843.5" cy="1243.9" r="8.4" fill="none" stroke="#ee1010" stroke-width="3.2"/>
<circle cx="1857.8" cy="1253.6" r="8.4" fill="none" stroke="#ee1010" stroke-width="3.2"/>
<circle cx="1871.6" cy="1250.2" r="8.4" fill="none" stroke="#ee1010" stroke-width="3.2"/>
<circle cx="1872.7" cy="1277.2" r="8.4" fill="none" stroke="#ee1010" stroke-width="3.2"/>
<circle cx="1858.9" cy="1290.9" r="8.4" fill="none" stroke="#ee1010" stroke-width="3.2"/>
<circle cx="1857.9" cy="1390.1" r="8.4" fill="none" stroke="#ee1010" stroke-width="3.2"/>
<path d="M1849.0,1202.6 L1867.0,1202.6 C1867.3,1205.3 1867.6,1214.1 1869.0,1218.7 C1870.4,1223.3 1873.5,1225.9 1875.5,1230.1 C1877.5,1234.3 1880.9,1239.1 1881.0,1243.9 C1881.1,1248.7 1877.8,1253.5 1876.0,1258.8 C1874.2,1264.1 1871.4,1270.3 1870.0,1276.0 C1868.6,1281.7 1869.0,1287.5 1867.5,1293.2 C1866.0,1298.9 1862.3,1304.7 1861.0,1310.4 C1859.7,1316.1 1859.8,1320.9 1859.5,1327.6 C1859.2,1334.3 1859.0,1345.2 1859.2,1350.8 C1859.4,1356.4 1860.0,1357.8 1860.5,1361.3 C1861.0,1364.8 1861.3,1368.6 1862.0,1371.7 C1862.7,1374.8 1863.7,1376.9 1864.5,1380.0 C1865.3,1383.1 1866.6,1388.4 1867.0,1390.1 L1849.0,1390.1 C1849.4,1388.4 1850.7,1383.1 1851.5,1380.0 C1852.3,1376.9 1853.3,1374.8 1854.0,1371.7 C1854.7,1368.6 1855.0,1364.8 1855.5,1361.3 C1856.0,1357.8 1856.6,1356.4 1856.8,1350.8 C1857.0,1345.2 1856.8,1334.3 1856.5,1327.6 C1856.2,1320.9 1856.3,1316.1 1855.0,1310.4 C1853.7,1304.7 1850.0,1298.9 1848.5,1293.2 C1847.0,1287.5 1847.4,1281.7 1846.0,1276.0 C1844.6,1270.3 1841.8,1264.1 1840.0,1258.8 C1838.2,1253.5 1834.9,1248.7 1835.0,1243.9 C1835.1,1239.1 1838.5,1234.3 1840.5,1230.1 C1842.5,1225.9 1845.6,1223.3 1847.0,1218.7 C1848.4,1214.1 1848.7,1205.3 1849.0,1202.6 Z" fill="none" stroke="#ee1010" stroke-width="3.0" stroke-linejoin="round"/>
<line x1="1837.5" y1="1251.4" x2="1878.5" y2="1251.4" stroke="#f03a00" stroke-width="3.4"/>
<line x1="1839.3" y1="1233.0" x2="1876.7" y2="1233.0" stroke="#ee1010" stroke-width="3.0" stroke-dasharray="5,3"/>
<line x1="1849.5" y1="1388.0" x2="1866.5" y2="1388.0" stroke="#ee1010" stroke-width="3.0" stroke-dasharray="5,3"/>
<circle cx="1928.5" cy="1267.6" r="9.0" fill="#ff6464" stroke="#ee1010" stroke-width="2.2"/>
<circle cx="1944.2" cy="1318.3" r="9.0" fill="#ff6464" stroke="#ee1010" stroke-width="2.2"/>
<circle cx="1913.6" cy="1335.8" r="9.0" fill="#ff6464" stroke="#ee1010" stroke-width="2.2"/>
<circle cx="1928.5" cy="1333.1" r="9.0" fill="#ff6464" stroke="#ee1010" stroke-width="2.2"/>
<circle cx="1943.3" cy="1336.6" r="9.0" fill="#ff6464" stroke="#ee1010" stroke-width="2.2"/>
<circle cx="1928.5" cy="1362.0" r="9.0" fill="#ff6464" stroke="#ee1010" stroke-width="2.2"/>
<circle cx="1928.5" cy="1454.6" r="9.0" fill="#ff6464" stroke="#ee1010" stroke-width="2.2"/>
<path d="M1919.5,1267.6 L1937.5,1267.6 C1936.5,1271.1 1930.7,1280.7 1931.5,1288.6 C1932.3,1296.5 1939.0,1307.5 1942.5,1314.8 C1946.0,1322.1 1952.3,1326.5 1952.5,1332.3 C1952.7,1338.1 1946.5,1344.0 1943.5,1349.8 C1940.5,1355.6 1936.8,1361.4 1934.5,1367.2 C1932.2,1373.0 1930.8,1376.0 1930.0,1384.7 C1929.2,1393.5 1929.2,1409.5 1930.0,1419.7 C1930.8,1429.9 1933.2,1440.1 1934.5,1445.9 C1935.8,1451.7 1937.0,1453.1 1937.5,1454.6 L1919.5,1454.6 C1920.0,1453.1 1921.2,1451.7 1922.5,1445.9 C1923.8,1440.1 1926.2,1429.9 1927.0,1419.7 C1927.8,1409.5 1927.8,1393.5 1927.0,1384.7 C1926.2,1376.0 1924.8,1373.0 1922.5,1367.2 C1920.2,1361.4 1916.5,1355.6 1913.5,1349.8 C1910.5,1344.0 1904.3,1338.1 1904.5,1332.3 C1904.7,1326.5 1911.0,1322.1 1914.5,1314.8 C1918.0,1307.5 1924.7,1296.5 1925.5,1288.6 C1926.3,1280.7 1920.5,1271.1 1919.5,1267.6 Z" fill="none" stroke="#ee1010" stroke-width="3.0" stroke-linejoin="round"/>
<line x1="1906.7" y1="1336.6" x2="1950.3" y2="1336.6" stroke="#f03a00" stroke-width="3.4"/>
<line x1="1912.5" y1="1318.3" x2="1944.5" y2="1318.3" stroke="#ee1010" stroke-width="3.0" stroke-dasharray="5,3"/>
<line x1="1919.8" y1="1362.0" x2="1937.2" y2="1362.0" stroke="#ee1010" stroke-width="3.0" stroke-dasharray="5,3"/>
<circle cx="1999.2" cy="1153.1" r="9.0" fill="#ff6464" stroke="#ee1010" stroke-width="2.2"/>
<circle cx="1999.2" cy="1174.1" r="9.0" fill="#ff6464" stroke="#ee1010" stroke-width="2.2"/>
<circle cx="1985.3" cy="1271.1" r="9.0" fill="#ff6464" stroke="#ee1010" stroke-width="2.2"/>
<circle cx="1998.4" cy="1286.0" r="9.0" fill="#ff6464" stroke="#ee1010" stroke-width="2.2"/>
<circle cx="2014.1" cy="1284.2" r="9.0" fill="#ff6464" stroke="#ee1010" stroke-width="2.2"/>
<circle cx="1984.4" cy="1308.7" r="9.0" fill="#ff6464" stroke="#ee1010" stroke-width="2.2"/>
<circle cx="1999.2" cy="1306.1" r="9.0" fill="#ff6464" stroke="#ee1010" stroke-width="2.2"/>
<circle cx="2014.1" cy="1308.7" r="9.0" fill="#ff6464" stroke="#ee1010" stroke-width="2.2"/>
<path d="M1990.2,1153.1 L2008.2,1153.1 C2008.2,1156.6 2008.7,1167.5 2008.2,1174.0 C2007.7,1180.5 2006.4,1183.5 2005.2,1192.4 C2004.0,1201.3 2000.5,1217.2 2001.2,1227.4 C2001.9,1237.6 2006.5,1245.4 2009.2,1253.6 C2011.9,1261.8 2015.2,1269.0 2017.2,1276.3 C2019.2,1283.6 2020.5,1292.0 2021.2,1297.3 C2021.9,1302.5 2021.2,1306.0 2021.2,1307.8 L1977.2,1307.8 C1977.2,1306.0 1976.5,1302.5 1977.2,1297.3 C1977.9,1292.0 1979.2,1283.6 1981.2,1276.3 C1983.2,1269.0 1986.5,1261.8 1989.2,1253.6 C1991.9,1245.4 1996.5,1237.6 1997.2,1227.4 C1997.9,1217.2 1994.4,1201.3 1993.2,1192.4 C1992.0,1183.5 1990.7,1180.5 1990.2,1174.0 C1989.7,1167.5 1990.2,1156.6 1990.2,1153.1 Z" fill="none" stroke="#ee1010" stroke-width="3.0" stroke-linejoin="round"/>
<line x1="1979.5" y1="1285.1" x2="2018.9" y2="1285.1" stroke="#f03a00" stroke-width="3.4"/>
<line x1="1990.2" y1="1174.0" x2="2008.2" y2="1174.0" stroke="#ee1010" stroke-width="3.0" stroke-dasharray="5,3"/>
<line x1="1977.2" y1="1307.0" x2="2021.2" y2="1307.0" stroke="#ee1010" stroke-width="3.0" stroke-dasharray="5,3"/>
</svg></body></html>
